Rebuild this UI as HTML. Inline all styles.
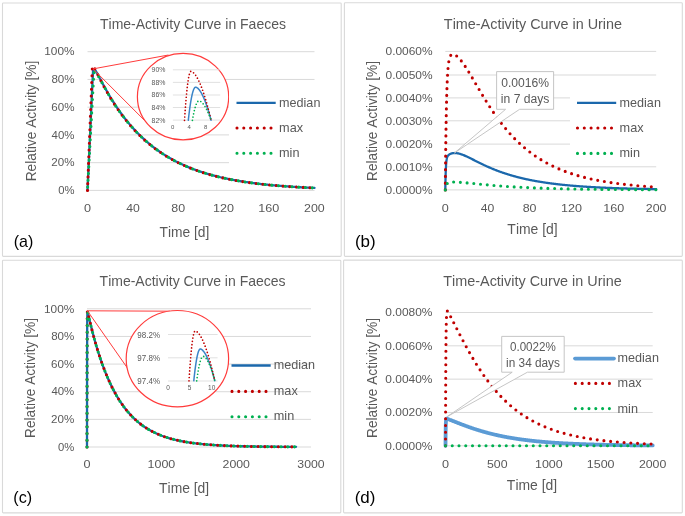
<!DOCTYPE html>
<html><head><meta charset="utf-8"><title>Time-Activity Curves</title>
<style>
html,body{margin:0;padding:0;background:#fff;}
body{width:685px;height:516px;overflow:hidden;}
svg{display:block;will-change:transform;font-family:"Liberation Sans",sans-serif;font-kerning:none;}
</style></head><body>
<svg width="685" height="516" viewBox="0 0 685 516">
<rect width="685" height="516" fill="#fff"/>
<rect x="2.5" y="3.0" width="338.7" height="253.39999999999998" rx="0.8" fill="#fff" stroke="#D9D9D9" stroke-width="1.1"/>
<rect x="344.4" y="2.7" width="337.9" height="253.7" rx="0.8" fill="#fff" stroke="#D9D9D9" stroke-width="1.1"/>
<rect x="2.5" y="260.2" width="338.3" height="252.7" rx="0.8" fill="#fff" stroke="#D9D9D9" stroke-width="1.1"/>
<rect x="343.6" y="260.1" width="338.69999999999993" height="252.79999999999995" rx="0.8" fill="#fff" stroke="#D9D9D9" stroke-width="1.1"/>
<text x="99.99" y="28.90" font-size="14.1" textLength="186.02" lengthAdjust="spacingAndGlyphs" fill="#595959" >Time-Activity Curve in Faeces</text>
<line x1="87.50" y1="190.40" x2="314.50" y2="190.40" stroke="#D9D9D9" stroke-width="1"/>
<text x="58.20" y="194.15" font-size="11.7" textLength="16.30" lengthAdjust="spacingAndGlyphs" fill="#595959" >0%</text>
<line x1="87.50" y1="162.66" x2="314.50" y2="162.66" stroke="#D9D9D9" stroke-width="1"/>
<text x="51.30" y="166.41" font-size="11.7" textLength="23.22" lengthAdjust="spacingAndGlyphs" fill="#595959" >20%</text>
<line x1="87.50" y1="134.92" x2="314.50" y2="134.92" stroke="#D9D9D9" stroke-width="1"/>
<text x="51.62" y="138.67" font-size="11.7" textLength="22.89" lengthAdjust="spacingAndGlyphs" fill="#595959" >40%</text>
<line x1="87.50" y1="107.18" x2="314.50" y2="107.18" stroke="#D9D9D9" stroke-width="1"/>
<text x="51.29" y="110.93" font-size="11.7" textLength="23.22" lengthAdjust="spacingAndGlyphs" fill="#595959" >60%</text>
<line x1="87.50" y1="79.44" x2="314.50" y2="79.44" stroke="#D9D9D9" stroke-width="1"/>
<text x="51.38" y="83.19" font-size="11.7" textLength="23.13" lengthAdjust="spacingAndGlyphs" fill="#595959" >80%</text>
<line x1="87.50" y1="51.70" x2="314.50" y2="51.70" stroke="#D9D9D9" stroke-width="1"/>
<text x="44.22" y="55.45" font-size="11.7" textLength="30.30" lengthAdjust="spacingAndGlyphs" fill="#595959" >100%</text>
<text x="83.97" y="212.00" font-size="11.7" textLength="7.05" lengthAdjust="spacingAndGlyphs" fill="#595959" >0</text>
<text x="126.21" y="212.00" font-size="11.7" textLength="13.58" lengthAdjust="spacingAndGlyphs" fill="#595959" >40</text>
<text x="171.35" y="212.00" font-size="11.7" textLength="13.85" lengthAdjust="spacingAndGlyphs" fill="#595959" >80</text>
<text x="212.95" y="212.00" font-size="11.7" textLength="21.03" lengthAdjust="spacingAndGlyphs" fill="#595959" >120</text>
<text x="258.35" y="212.00" font-size="11.7" textLength="21.03" lengthAdjust="spacingAndGlyphs" fill="#595959" >160</text>
<text x="304.09" y="212.00" font-size="11.7" textLength="20.69" lengthAdjust="spacingAndGlyphs" fill="#595959" >200</text>
<text transform="rotate(-90)" x="-181.33" y="35.50" font-size="13.8" textLength="120.71" lengthAdjust="spacingAndGlyphs" fill="#595959">Relative Activity [%]</text>
<text x="159.49" y="237.00" font-size="13.8" textLength="49.90" lengthAdjust="spacingAndGlyphs" fill="#595959" >Time [d]</text>
<text x="13.71" y="247.00" font-size="16.1" textLength="19.59" lengthAdjust="spacingAndGlyphs" fill="#000" >(a)</text>
<path d="M87.50,190.40 L92.38,84.77 L92.49,82.31 L92.61,79.85 L92.72,77.40 L92.83,74.94 L92.95,72.48 L93.06,70.03 L93.17,69.89 L93.29,69.78 L93.40,69.69 L93.52,69.62 L93.63,69.58 L93.74,69.54 L93.86,69.53 L93.97,69.53 L94.08,69.55 L94.20,69.58 L94.31,69.62 L94.42,69.68 L94.54,69.74 L94.65,69.82 L94.76,69.91 L94.88,70.00 L94.99,70.11 L95.10,70.22 L95.22,70.34 L95.33,70.47 L95.44,70.61 L95.56,70.75 L95.67,70.89 L95.79,71.05 L95.90,71.20 L96.01,71.37 L96.13,71.53 L96.24,71.71 L96.35,71.88 L96.47,72.06 L96.58,72.24 L96.69,72.43 L96.81,72.61 L96.92,72.80 L97.03,73.00 L97.15,73.19 L97.26,73.39 L97.37,73.59 L97.49,73.79 L97.60,73.99 L97.72,74.20 L97.83,74.40 L97.94,74.61 L98.06,74.82 L98.17,75.03 L98.28,75.24 L98.40,75.45 L98.51,75.66 L98.62,75.88 L98.74,76.09 L98.85,76.31 L98.96,76.52 L99.08,76.74 L99.19,76.95 L99.30,77.17 L99.42,77.39 L99.53,77.60 L99.64,77.82 L99.76,78.04 L99.87,78.25 L99.98,78.47 L100.10,78.69 L100.21,78.91 L100.33,79.13 L100.44,79.34 L100.55,79.56 L100.67,79.78 L100.78,80.00 L100.89,80.21 L101.01,80.43 L101.12,80.65 L101.69,81.73 L102.76,83.76 L103.83,85.76 L104.90,87.72 L105.97,89.65 L107.03,91.55 L108.10,93.41 L109.17,95.24 L110.24,97.04 L111.31,98.80 L112.38,100.52 L113.45,102.22 L114.52,103.88 L115.59,105.51 L116.66,107.11 L117.73,108.68 L118.80,110.22 L119.87,111.73 L120.94,113.22 L122.01,114.67 L123.08,116.10 L124.15,117.50 L125.21,118.87 L126.28,120.22 L127.35,121.55 L128.42,122.84 L129.49,124.12 L130.56,125.37 L131.63,126.59 L132.70,127.80 L133.77,128.98 L134.84,130.13 L135.91,131.27 L136.98,132.39 L138.05,133.48 L139.12,134.55 L140.19,135.61 L141.26,136.64 L142.33,137.65 L143.39,138.65 L144.46,139.62 L145.53,140.58 L146.60,141.52 L147.67,142.44 L148.74,143.34 L149.81,144.23 L150.88,145.10 L151.95,145.96 L153.02,146.79 L154.09,147.62 L155.16,148.42 L156.23,149.21 L157.30,149.99 L158.37,150.75 L159.44,151.50 L160.51,152.23 L161.57,152.95 L162.64,153.66 L163.71,154.35 L164.78,155.03 L165.85,155.70 L166.92,156.35 L167.99,156.99 L169.06,157.62 L170.13,158.24 L171.20,158.85 L172.27,159.44 L173.34,160.03 L174.41,160.60 L175.48,161.16 L176.55,161.71 L177.62,162.25 L178.68,162.78 L179.75,163.30 L180.82,163.81 L181.89,164.32 L182.96,164.81 L184.03,165.29 L185.10,165.76 L186.17,166.23 L187.24,166.68 L188.31,167.13 L189.38,167.57 L190.45,168.00 L191.52,168.42 L192.59,168.84 L193.66,169.24 L194.73,169.64 L195.80,170.03 L196.86,170.42 L197.93,170.79 L199.00,171.16 L200.07,171.53 L201.14,171.88 L202.21,172.23 L203.28,172.57 L204.35,172.91 L205.42,173.24 L206.49,173.56 L207.56,173.88 L208.63,174.19 L209.70,174.50 L210.77,174.80 L211.84,175.09 L212.91,175.38 L213.98,175.66 L215.04,175.94 L216.11,176.21 L217.18,176.48 L218.25,176.74 L219.32,177.00 L220.39,177.25 L221.46,177.50 L222.53,177.74 L223.60,177.98 L224.67,178.22 L225.74,178.45 L226.81,178.67 L227.88,178.89 L228.95,179.11 L230.02,179.32 L231.09,179.53 L232.16,179.74 L233.22,179.94 L234.29,180.14 L235.36,180.33 L236.43,180.52 L237.50,180.70 L238.57,180.89 L239.64,181.07 L240.71,181.24 L241.78,181.42 L242.85,181.58 L243.92,181.75 L244.99,181.91 L246.06,182.07 L247.13,182.23 L248.20,182.39 L249.27,182.54 L250.34,182.68 L251.40,182.83 L252.47,182.97 L253.54,183.11 L254.61,183.25 L255.68,183.38 L256.75,183.52 L257.82,183.65 L258.89,183.77 L259.96,183.90 L261.03,184.02 L262.10,184.14 L263.17,184.26 L264.24,184.38 L265.31,184.49 L266.38,184.60 L267.45,184.71 L268.52,184.82 L269.58,184.92 L270.65,185.03 L271.72,185.13 L272.79,185.23 L273.86,185.32 L274.93,185.42 L276.00,185.51 L277.07,185.61 L278.14,185.70 L279.21,185.78 L280.28,185.87 L281.35,185.96 L282.42,186.04 L283.49,186.12 L284.56,186.20 L285.63,186.28 L286.70,186.36 L287.76,186.44 L288.83,186.51 L289.90,186.58 L290.97,186.66 L292.04,186.73 L293.11,186.80 L294.18,186.86 L295.25,186.93 L296.32,187.00 L297.39,187.06 L298.46,187.12 L299.53,187.19 L300.60,187.25 L301.67,187.31 L302.74,187.36 L303.81,187.42 L304.88,187.48 L305.94,187.53 L307.01,187.59 L308.08,187.64 L309.15,187.69 L310.22,187.74 L311.29,187.79 L312.36,187.84 L313.43,187.89 L314.50,187.94" fill="none" stroke="#1B68AC" stroke-width="2.3" stroke-linejoin="round" stroke-linecap="round" />
<path d="M87.50,190.40 L92.38,66.04 L92.49,66.02 L92.61,66.02 L92.72,66.05 L92.83,66.09 L92.95,66.15 L93.06,66.23 L93.17,66.32 L93.29,66.42 L93.40,66.54 L93.52,66.67 L93.63,66.81 L93.74,66.95 L93.86,67.11 L93.97,67.27 L94.08,67.44 L94.20,67.61 L94.31,67.79 L94.42,67.98 L94.54,68.17 L94.65,68.37 L94.76,68.56 L94.88,68.77 L94.99,68.97 L95.10,69.18 L95.22,69.39 L95.33,69.61 L95.44,69.82 L95.56,70.04 L95.67,70.26 L95.79,70.48 L95.90,70.70 L96.01,70.93 L96.13,71.15 L96.24,71.38 L96.35,71.60 L96.47,71.83 L96.58,72.06 L96.69,72.28 L96.81,72.51 L96.92,72.74 L97.03,72.97 L97.15,73.20 L97.26,73.43 L97.37,73.66 L97.49,73.89 L97.60,74.12 L97.72,74.35 L97.83,74.58 L97.94,74.81 L98.06,75.04 L98.17,75.27 L98.28,75.50 L98.40,75.73 L98.51,75.95 L98.62,76.18 L98.74,76.41 L98.85,76.64 L98.96,76.87 L99.08,77.09 L99.19,77.32 L99.30,77.55 L99.42,77.77 L99.53,78.00 L99.64,78.23 L99.76,78.45 L99.87,78.68 L99.98,78.90 L100.10,79.12 L100.21,79.35 L100.33,79.57 L100.44,79.80 L100.55,80.02 L100.67,80.24 L100.78,80.46 L100.89,80.68 L101.01,80.90 L101.12,81.12 L101.69,82.22 L102.76,84.26 L103.83,86.26 L104.90,88.22 L105.97,90.15 L107.03,92.04 L108.10,93.89 L109.17,95.71 L110.24,97.50 L111.31,99.25 L112.38,100.97 L113.45,102.65 L114.52,104.31 L115.59,105.93 L116.66,107.52 L117.73,109.09 L118.80,110.62 L119.87,112.12 L120.94,113.60 L122.01,115.05 L123.08,116.47 L124.15,117.86 L125.21,119.23 L126.28,120.57 L127.35,121.89 L128.42,123.18 L129.49,124.45 L130.56,125.69 L131.63,126.91 L132.70,128.11 L133.77,129.28 L134.84,130.43 L135.91,131.56 L136.98,132.67 L138.05,133.76 L139.12,134.83 L140.19,135.88 L141.26,136.90 L142.33,137.91 L143.39,138.90 L144.46,139.87 L145.53,140.83 L146.60,141.76 L147.67,142.68 L148.74,143.58 L149.81,144.46 L150.88,145.33 L151.95,146.18 L153.02,147.01 L154.09,147.83 L155.16,148.63 L156.23,149.42 L157.30,150.19 L158.37,150.95 L159.44,151.69 L160.51,152.42 L161.57,153.14 L162.64,153.84 L163.71,154.53 L164.78,155.21 L165.85,155.87 L166.92,156.52 L167.99,157.16 L169.06,157.79 L170.13,158.40 L171.20,159.00 L172.27,159.60 L173.34,160.18 L174.41,160.75 L175.48,161.31 L176.55,161.85 L177.62,162.39 L178.68,162.92 L179.75,163.44 L180.82,163.95 L181.89,164.45 L182.96,164.93 L184.03,165.41 L185.10,165.89 L186.17,166.35 L187.24,166.80 L188.31,167.25 L189.38,167.68 L190.45,168.11 L191.52,168.53 L192.59,168.94 L193.66,169.35 L194.73,169.74 L195.80,170.13 L196.86,170.52 L197.93,170.89 L199.00,171.26 L200.07,171.62 L201.14,171.97 L202.21,172.32 L203.28,172.66 L204.35,173.00 L205.42,173.32 L206.49,173.65 L207.56,173.96 L208.63,174.27 L209.70,174.58 L210.77,174.87 L211.84,175.17 L212.91,175.45 L213.98,175.74 L215.04,176.01 L216.11,176.28 L217.18,176.55 L218.25,176.81 L219.32,177.07 L220.39,177.32 L221.46,177.57 L222.53,177.81 L223.60,178.04 L224.67,178.28 L225.74,178.51 L226.81,178.73 L227.88,178.95 L228.95,179.17 L230.02,179.38 L231.09,179.59 L232.16,179.79 L233.22,179.99 L234.29,180.19 L235.36,180.38 L236.43,180.57 L237.50,180.75 L238.57,180.93 L239.64,181.11 L240.71,181.29 L241.78,181.46 L242.85,181.63 L243.92,181.79 L244.99,181.96 L246.06,182.12 L247.13,182.27 L248.20,182.42 L249.27,182.58 L250.34,182.72 L251.40,182.87 L252.47,183.01 L253.54,183.15 L254.61,183.29 L255.68,183.42 L256.75,183.55 L257.82,183.68 L258.89,183.81 L259.96,183.93 L261.03,184.05 L262.10,184.17 L263.17,184.29 L264.24,184.41 L265.31,184.52 L266.38,184.63 L267.45,184.74 L268.52,184.84 L269.58,184.95 L270.65,185.05 L271.72,185.15 L272.79,185.25 L273.86,185.35 L274.93,185.44 L276.00,185.54 L277.07,185.63 L278.14,185.72 L279.21,185.81 L280.28,185.89 L281.35,185.98 L282.42,186.06 L283.49,186.14 L284.56,186.22 L285.63,186.30 L286.70,186.38 L287.76,186.46 L288.83,186.53 L289.90,186.60 L290.97,186.68 L292.04,186.75 L293.11,186.81 L294.18,186.88 L295.25,186.95 L296.32,187.01 L297.39,187.08 L298.46,187.14 L299.53,187.20 L300.60,187.26 L301.67,187.32 L302.74,187.38 L303.81,187.44 L304.88,187.49 L305.94,187.55 L307.01,187.60 L308.08,187.65 L309.15,187.70 L310.22,187.76 L311.29,187.81 L312.36,187.85 L313.43,187.90 L314.50,187.95" fill="none" stroke="#C00000" stroke-width="3.1" stroke-linecap="round" stroke-dasharray="0 6.75" />
<path d="M87.50,190.40 L92.38,100.14 L92.49,98.04 L92.61,95.94 L92.72,93.84 L92.83,91.74 L92.95,89.64 L93.06,87.54 L93.17,85.44 L93.29,83.34 L93.40,81.24 L93.52,79.15 L93.63,77.05 L93.74,74.95 L93.86,72.85 L93.97,72.73 L94.08,72.63 L94.20,72.55 L94.31,72.48 L94.42,72.43 L94.54,72.39 L94.65,72.37 L94.76,72.37 L94.88,72.37 L94.99,72.39 L95.10,72.42 L95.22,72.46 L95.33,72.51 L95.44,72.56 L95.56,72.63 L95.67,72.71 L95.79,72.79 L95.90,72.89 L96.01,72.99 L96.13,73.09 L96.24,73.21 L96.35,73.33 L96.47,73.45 L96.58,73.58 L96.69,73.72 L96.81,73.86 L96.92,74.01 L97.03,74.15 L97.15,74.31 L97.26,74.47 L97.37,74.63 L97.49,74.79 L97.60,74.96 L97.72,75.13 L97.83,75.31 L97.94,75.48 L98.06,75.66 L98.17,75.84 L98.28,76.03 L98.40,76.21 L98.51,76.40 L98.62,76.59 L98.74,76.78 L98.85,76.97 L98.96,77.17 L99.08,77.36 L99.19,77.56 L99.30,77.76 L99.42,77.96 L99.53,78.16 L99.64,78.36 L99.76,78.56 L99.87,78.76 L99.98,78.97 L100.10,79.17 L100.21,79.38 L100.33,79.58 L100.44,79.79 L100.55,80.00 L100.67,80.20 L100.78,80.41 L100.89,80.62 L101.01,80.83 L101.12,81.04 L101.69,82.08 L102.76,84.05 L103.83,86.02 L104.90,87.96 L105.97,89.87 L107.03,91.76 L108.10,93.61 L109.17,95.44 L110.24,97.22 L111.31,98.98 L112.38,100.70 L113.45,102.39 L114.52,104.05 L115.59,105.68 L116.66,107.28 L117.73,108.84 L118.80,110.38 L119.87,111.89 L120.94,113.37 L122.01,114.82 L123.08,116.25 L124.15,117.64 L125.21,119.02 L126.28,120.36 L127.35,121.68 L128.42,122.98 L129.49,124.25 L130.56,125.50 L131.63,126.72 L132.70,127.92 L133.77,129.10 L134.84,130.25 L135.91,131.39 L136.98,132.50 L138.05,133.59 L139.12,134.66 L140.19,135.71 L141.26,136.74 L142.33,137.76 L143.39,138.75 L144.46,139.72 L145.53,140.68 L146.60,141.62 L147.67,142.54 L148.74,143.44 L149.81,144.32 L150.88,145.19 L151.95,146.04 L153.02,146.88 L154.09,147.70 L155.16,148.51 L156.23,149.30 L157.30,150.07 L158.37,150.83 L159.44,151.58 L160.51,152.31 L161.57,153.03 L162.64,153.73 L163.71,154.42 L164.78,155.10 L165.85,155.77 L166.92,156.42 L167.99,157.06 L169.06,157.69 L170.13,158.31 L171.20,158.91 L172.27,159.50 L173.34,160.09 L174.41,160.66 L175.48,161.22 L176.55,161.77 L177.62,162.31 L178.68,162.84 L179.75,163.36 L180.82,163.87 L181.89,164.37 L182.96,164.86 L184.03,165.34 L185.10,165.81 L186.17,166.28 L187.24,166.73 L188.31,167.18 L189.38,167.61 L190.45,168.04 L191.52,168.47 L192.59,168.88 L193.66,169.29 L194.73,169.68 L195.80,170.07 L196.86,170.46 L197.93,170.83 L199.00,171.20 L200.07,171.56 L201.14,171.92 L202.21,172.27 L203.28,172.61 L204.35,172.94 L205.42,173.27 L206.49,173.60 L207.56,173.91 L208.63,174.22 L209.70,174.53 L210.77,174.83 L211.84,175.12 L212.91,175.41 L213.98,175.69 L215.04,175.97 L216.11,176.24 L217.18,176.51 L218.25,176.77 L219.32,177.03 L220.39,177.28 L221.46,177.53 L222.53,177.77 L223.60,178.01 L224.67,178.24 L225.74,178.47 L226.81,178.70 L227.88,178.92 L228.95,179.13 L230.02,179.35 L231.09,179.55 L232.16,179.76 L233.22,179.96 L234.29,180.16 L235.36,180.35 L236.43,180.54 L237.50,180.72 L238.57,180.91 L239.64,181.09 L240.71,181.26 L241.78,181.43 L242.85,181.60 L243.92,181.77 L244.99,181.93 L246.06,182.09 L247.13,182.25 L248.20,182.40 L249.27,182.55 L250.34,182.70 L251.40,182.84 L252.47,182.99 L253.54,183.13 L254.61,183.26 L255.68,183.40 L256.75,183.53 L257.82,183.66 L258.89,183.79 L259.96,183.91 L261.03,184.03 L262.10,184.15 L263.17,184.27 L264.24,184.39 L265.31,184.50 L266.38,184.61 L267.45,184.72 L268.52,184.83 L269.58,184.93 L270.65,185.04 L271.72,185.14 L272.79,185.24 L273.86,185.33 L274.93,185.43 L276.00,185.52 L277.07,185.62 L278.14,185.71 L279.21,185.79 L280.28,185.88 L281.35,185.97 L282.42,186.05 L283.49,186.13 L284.56,186.21 L285.63,186.29 L286.70,186.37 L287.76,186.44 L288.83,186.52 L289.90,186.59 L290.97,186.66 L292.04,186.73 L293.11,186.80 L294.18,186.87 L295.25,186.94 L296.32,187.00 L297.39,187.07 L298.46,187.13 L299.53,187.19 L300.60,187.25 L301.67,187.31 L302.74,187.37 L303.81,187.43 L304.88,187.48 L305.94,187.54 L307.01,187.59 L308.08,187.64 L309.15,187.70 L310.22,187.75 L311.29,187.80 L312.36,187.85 L313.43,187.89 L314.50,187.94" fill="none" stroke="#00B050" stroke-width="3.1" stroke-linecap="round" stroke-dasharray="0 6.75" stroke-dashoffset="3.4"/>
<line x1="93.0" y1="68.9" x2="168.5" y2="55.0" stroke="#FF3B3B" stroke-width="1"/>
<line x1="93.0" y1="68.9" x2="144.5" y2="120.4" stroke="#FF3B3B" stroke-width="1"/>
<ellipse cx="183.05" cy="96.65" rx="45.65" ry="43.25" fill="#fff" stroke="#FF3B3B" stroke-width="1.2"/>
<line x1="172.90" y1="69.80" x2="220.20" y2="69.80" stroke="#D9D9D9" stroke-width="0.8"/>
<text x="151.58" y="72.25" font-size="7.0" textLength="13.87" lengthAdjust="spacingAndGlyphs" fill="#595959" >90%</text>
<line x1="172.90" y1="82.40" x2="220.20" y2="82.40" stroke="#D9D9D9" stroke-width="0.8"/>
<text x="151.60" y="84.85" font-size="7.0" textLength="13.85" lengthAdjust="spacingAndGlyphs" fill="#595959" >88%</text>
<line x1="172.90" y1="95.00" x2="220.20" y2="95.00" stroke="#D9D9D9" stroke-width="0.8"/>
<text x="151.60" y="97.45" font-size="7.0" textLength="13.85" lengthAdjust="spacingAndGlyphs" fill="#595959" >86%</text>
<line x1="172.90" y1="107.50" x2="220.20" y2="107.50" stroke="#D9D9D9" stroke-width="0.8"/>
<text x="151.60" y="109.95" font-size="7.0" textLength="13.85" lengthAdjust="spacingAndGlyphs" fill="#595959" >84%</text>
<line x1="172.90" y1="120.10" x2="220.20" y2="120.10" stroke="#D9D9D9" stroke-width="0.8"/>
<text x="151.60" y="122.55" font-size="7.0" textLength="13.85" lengthAdjust="spacingAndGlyphs" fill="#595959" >82%</text>
<text x="171.03" y="129.10" font-size="6.0" textLength="3.34" lengthAdjust="spacingAndGlyphs" fill="#595959" >0</text>
<text x="187.45" y="129.10" font-size="6.0" textLength="3.34" lengthAdjust="spacingAndGlyphs" fill="#595959" >4</text>
<text x="204.03" y="129.10" font-size="6.0" textLength="3.34" lengthAdjust="spacingAndGlyphs" fill="#595959" >8</text>
<g>
<path d="M188.30,120.30 L188.42,119.21 L188.54,118.13 L188.67,117.07 L188.79,116.03 L188.91,115.01 L189.03,114.01 L189.15,113.03 L189.27,112.06 L189.40,111.11 L189.52,110.19 L189.64,109.28 L189.76,108.38 L189.88,107.51 L190.00,106.66 L190.12,105.82 L190.25,105.00 L190.37,104.20 L190.49,103.42 L190.61,102.66 L190.73,101.91 L190.86,101.18 L190.98,100.48 L191.10,99.79 L191.22,99.12 L191.34,98.46 L191.46,97.83 L191.59,97.21 L191.71,96.62 L191.83,96.04 L191.95,95.47 L192.07,94.93 L192.19,94.41 L192.31,93.90 L192.44,93.42 L192.56,92.95 L192.68,92.50 L192.80,92.06 L192.92,91.65 L193.04,91.25 L193.17,90.88 L193.29,90.52 L193.41,90.18 L193.53,89.86 L193.65,89.55 L193.78,89.27 L193.90,89.00 L194.02,88.75 L194.14,88.52 L194.26,88.31 L194.38,88.12 L194.50,87.94 L194.63,87.79 L194.75,87.65 L194.87,87.53 L194.99,87.43 L195.11,87.35 L195.23,87.28 L195.36,87.24 L195.48,87.21 L195.60,87.20 L195.86,87.23 L196.12,87.29 L196.38,87.37 L196.63,87.49 L196.89,87.63 L197.15,87.79 L197.41,87.97 L197.67,88.17 L197.92,88.40 L198.18,88.64 L198.44,88.90 L198.70,89.18 L198.96,89.48 L199.22,89.79 L199.47,90.13 L199.73,90.48 L199.99,90.84 L200.25,91.23 L200.51,91.62 L200.77,92.04 L201.03,92.47 L201.28,92.92 L201.54,93.38 L201.80,93.86 L202.06,94.35 L202.32,94.86 L202.57,95.38 L202.83,95.92 L203.09,96.47 L203.35,97.04 L203.61,97.62 L203.87,98.22 L204.12,98.83 L204.38,99.45 L204.64,100.09 L204.90,100.74 L205.16,101.40 L205.42,102.08 L205.67,102.77 L205.93,103.48 L206.19,104.20 L206.45,104.93 L206.71,105.68 L206.97,106.44 L207.22,107.21 L207.48,107.99 L207.74,108.79 L208.00,109.60 L208.26,110.42 L208.52,111.26 L208.78,112.11 L209.03,112.97 L209.29,113.84 L209.55,114.73 L209.81,115.62 L210.07,116.54 L210.32,117.46 L210.58,118.39 L210.84,119.34 L211.10,120.30" fill="none" stroke="#3A84C8" stroke-width="1.5" stroke-linejoin="round" stroke-linecap="round" />
<path d="M184.50,120.30 L184.61,118.68 L184.71,117.09 L184.82,115.53 L184.93,114.00 L185.03,112.49 L185.14,111.01 L185.25,109.56 L185.35,108.13 L185.46,106.73 L185.57,105.36 L185.67,104.01 L185.78,102.70 L185.89,101.41 L185.99,100.14 L186.10,98.91 L186.21,97.70 L186.31,96.52 L186.42,95.36 L186.53,94.23 L186.63,93.13 L186.74,92.06 L186.85,91.01 L186.95,90.00 L187.06,89.00 L187.17,88.04 L187.27,87.10 L187.38,86.19 L187.49,85.31 L187.59,84.45 L187.70,83.62 L187.81,82.82 L187.91,82.05 L188.02,81.30 L188.13,80.58 L188.23,79.89 L188.34,79.22 L188.45,78.59 L188.55,77.97 L188.66,77.39 L188.77,76.83 L188.87,76.30 L188.98,75.80 L189.09,75.33 L189.19,74.88 L189.30,74.46 L189.41,74.06 L189.51,73.70 L189.62,73.36 L189.73,73.04 L189.83,72.76 L189.94,72.50 L190.05,72.27 L190.15,72.07 L190.26,71.89 L190.37,71.74 L190.47,71.62 L190.58,71.52 L190.69,71.45 L190.79,71.41 L190.90,71.40 L191.24,71.44 L191.57,71.53 L191.91,71.66 L192.25,71.83 L192.58,72.03 L192.92,72.27 L193.26,72.54 L193.59,72.84 L193.93,73.17 L194.27,73.53 L194.60,73.91 L194.94,74.32 L195.28,74.76 L195.61,75.23 L195.95,75.72 L196.29,76.24 L196.62,76.78 L196.96,77.35 L197.30,77.94 L197.63,78.55 L197.97,79.19 L198.31,79.85 L198.64,80.53 L198.98,81.24 L199.32,81.97 L199.65,82.72 L199.99,83.49 L200.33,84.28 L200.66,85.10 L201.00,85.94 L201.34,86.80 L201.67,87.68 L202.01,88.58 L202.35,89.50 L202.68,90.44 L203.02,91.40 L203.36,92.38 L203.69,93.39 L204.03,94.41 L204.37,95.45 L204.70,96.51 L205.04,97.60 L205.38,98.70 L205.71,99.82 L206.05,100.96 L206.39,102.12 L206.72,103.29 L207.06,104.49 L207.40,105.71 L207.73,106.94 L208.07,108.20 L208.41,109.47 L208.74,110.76 L209.08,112.07 L209.42,113.39 L209.75,114.74 L210.09,116.10 L210.43,117.48 L210.76,118.88 L211.10,120.30" fill="none" stroke="#C00000" stroke-width="1.7" stroke-linecap="round" stroke-dasharray="0 3.3" />
<path d="M192.40,120.30 L192.51,119.66 L192.62,119.02 L192.73,118.40 L192.84,117.79 L192.95,117.19 L193.06,116.59 L193.17,116.02 L193.28,115.45 L193.39,114.89 L193.50,114.34 L193.61,113.81 L193.72,113.28 L193.83,112.77 L193.94,112.26 L194.05,111.77 L194.16,111.29 L194.27,110.82 L194.38,110.35 L194.49,109.91 L194.60,109.47 L194.71,109.04 L194.82,108.62 L194.93,108.22 L195.04,107.82 L195.15,107.44 L195.26,107.06 L195.37,106.70 L195.48,106.35 L195.59,106.01 L195.70,105.67 L195.81,105.36 L195.92,105.05 L196.03,104.75 L196.14,104.46 L196.25,104.19 L196.36,103.92 L196.47,103.67 L196.58,103.42 L196.69,103.19 L196.80,102.97 L196.91,102.76 L197.02,102.55 L197.13,102.37 L197.24,102.19 L197.35,102.02 L197.46,101.86 L197.57,101.72 L197.68,101.58 L197.79,101.46 L197.90,101.34 L198.01,101.24 L198.12,101.15 L198.23,101.07 L198.34,100.99 L198.45,100.94 L198.56,100.89 L198.67,100.85 L198.78,100.82 L198.89,100.81 L199.00,100.80 L199.20,100.82 L199.40,100.85 L199.60,100.90 L199.81,100.97 L200.01,101.05 L200.21,101.15 L200.41,101.25 L200.61,101.37 L200.81,101.51 L201.02,101.65 L201.22,101.80 L201.42,101.97 L201.62,102.14 L201.82,102.33 L202.03,102.52 L202.23,102.73 L202.43,102.95 L202.63,103.17 L202.83,103.41 L203.03,103.65 L203.23,103.91 L203.44,104.17 L203.64,104.44 L203.84,104.72 L204.04,105.01 L204.24,105.31 L204.44,105.62 L204.65,105.94 L204.85,106.26 L205.05,106.60 L205.25,106.94 L205.45,107.29 L205.66,107.65 L205.86,108.02 L206.06,108.39 L206.26,108.78 L206.46,109.17 L206.66,109.57 L206.87,109.98 L207.07,110.39 L207.27,110.81 L207.47,111.25 L207.67,111.69 L207.87,112.13 L208.07,112.59 L208.28,113.05 L208.48,113.52 L208.68,114.00 L208.88,114.48 L209.08,114.97 L209.28,115.47 L209.49,115.98 L209.69,116.49 L209.89,117.02 L210.09,117.55 L210.29,118.08 L210.50,118.63 L210.70,119.18 L210.90,119.73 L211.10,120.30" fill="none" stroke="#00B050" stroke-width="1.7" stroke-linecap="round" stroke-dasharray="0 3.3" />
</g>
<rect x="229" y="88" width="101" height="78" fill="#fff"/>
<path d="M236.50,102.90 L275.70,102.90" fill="none" stroke="#1B68AC" stroke-width="2.3" stroke-linejoin="round" stroke-linecap="butt" />
<path d="M237.00,128.00 L271.10,128.00" fill="none" stroke="#C00000" stroke-width="3.1" stroke-linecap="round" stroke-dasharray="0 6.8" />
<path d="M237.00,153.20 L271.10,153.20" fill="none" stroke="#00B050" stroke-width="3.1" stroke-linecap="round" stroke-dasharray="0 6.8" />
<text x="279.06" y="106.50" font-size="12.7" textLength="41.36" lengthAdjust="spacingAndGlyphs" fill="#595959" >median</text>
<text x="279.06" y="131.70" font-size="12.7" textLength="23.99" lengthAdjust="spacingAndGlyphs" fill="#595959" >max</text>
<text x="279.06" y="156.90" font-size="12.7" textLength="20.46" lengthAdjust="spacingAndGlyphs" fill="#595959" >min</text>
<text x="443.88" y="28.60" font-size="14.1" textLength="178.16" lengthAdjust="spacingAndGlyphs" fill="#595959" >Time-Activity Curve in Urine</text>
<line x1="445.30" y1="189.90" x2="656.20" y2="189.90" stroke="#D9D9D9" stroke-width="1"/>
<text x="385.53" y="193.65" font-size="11.7" textLength="47.09" lengthAdjust="spacingAndGlyphs" fill="#595959" >0.0000%</text>
<line x1="445.30" y1="166.80" x2="656.20" y2="166.80" stroke="#D9D9D9" stroke-width="1"/>
<text x="385.53" y="170.55" font-size="11.7" textLength="47.09" lengthAdjust="spacingAndGlyphs" fill="#595959" >0.0010%</text>
<line x1="445.30" y1="144.10" x2="656.20" y2="144.10" stroke="#D9D9D9" stroke-width="1"/>
<text x="385.53" y="147.85" font-size="11.7" textLength="47.09" lengthAdjust="spacingAndGlyphs" fill="#595959" >0.0020%</text>
<line x1="445.30" y1="120.80" x2="656.20" y2="120.80" stroke="#D9D9D9" stroke-width="1"/>
<text x="385.53" y="124.55" font-size="11.7" textLength="47.09" lengthAdjust="spacingAndGlyphs" fill="#595959" >0.0030%</text>
<line x1="445.30" y1="97.90" x2="656.20" y2="97.90" stroke="#D9D9D9" stroke-width="1"/>
<text x="385.53" y="101.65" font-size="11.7" textLength="47.09" lengthAdjust="spacingAndGlyphs" fill="#595959" >0.0040%</text>
<line x1="445.30" y1="75.00" x2="656.20" y2="75.00" stroke="#D9D9D9" stroke-width="1"/>
<text x="385.53" y="78.75" font-size="11.7" textLength="47.09" lengthAdjust="spacingAndGlyphs" fill="#595959" >0.0050%</text>
<line x1="445.30" y1="51.40" x2="656.20" y2="51.40" stroke="#D9D9D9" stroke-width="1"/>
<text x="385.53" y="55.15" font-size="11.7" textLength="47.09" lengthAdjust="spacingAndGlyphs" fill="#595959" >0.0060%</text>
<text x="441.77" y="211.50" font-size="11.7" textLength="7.05" lengthAdjust="spacingAndGlyphs" fill="#595959" >0</text>
<text x="480.79" y="211.50" font-size="11.7" textLength="13.58" lengthAdjust="spacingAndGlyphs" fill="#595959" >40</text>
<text x="522.71" y="211.50" font-size="11.7" textLength="13.85" lengthAdjust="spacingAndGlyphs" fill="#595959" >80</text>
<text x="561.09" y="211.50" font-size="11.7" textLength="21.03" lengthAdjust="spacingAndGlyphs" fill="#595959" >120</text>
<text x="603.27" y="211.50" font-size="11.7" textLength="21.03" lengthAdjust="spacingAndGlyphs" fill="#595959" >160</text>
<text x="645.79" y="211.50" font-size="11.7" textLength="20.69" lengthAdjust="spacingAndGlyphs" fill="#595959" >200</text>
<text transform="rotate(-90)" x="-180.92" y="376.80" font-size="13.8" textLength="119.89" lengthAdjust="spacingAndGlyphs" fill="#595959">Relative Activity [%]</text>
<text x="507.39" y="233.90" font-size="13.8" textLength="50.31" lengthAdjust="spacingAndGlyphs" fill="#595959" >Time [d]</text>
<text x="354.95" y="246.80" font-size="16.1" textLength="20.70" lengthAdjust="spacingAndGlyphs" fill="#000" >(b)</text>
<path d="M445.30,189.90 L445.34,187.87 L445.37,185.97 L445.41,184.19 L445.44,182.51 L445.48,180.93 L445.51,179.46 L445.55,178.07 L445.58,176.76 L445.62,175.54 L445.65,174.39 L445.69,173.31 L445.72,172.29 L445.76,171.33 L445.79,170.44 L445.83,169.59 L445.86,168.80 L445.90,168.05 L445.93,167.35 L445.97,166.69 L446.00,166.06 L446.04,165.48 L446.07,164.93 L446.11,164.41 L446.14,163.92 L446.18,163.46 L446.21,163.03 L446.25,162.62 L446.28,162.23 L446.32,161.87 L446.35,161.52 L446.39,161.20 L446.42,160.89 L446.46,160.60 L446.50,160.33 L446.53,160.07 L446.57,159.83 L446.60,159.60 L446.64,159.38 L446.67,159.17 L446.71,158.98 L446.74,158.79 L446.78,158.61 L446.81,158.45 L446.85,158.29 L446.88,158.13 L446.92,157.99 L446.95,157.85 L446.99,157.72 L447.02,157.60 L447.06,157.48 L447.09,157.37 L447.13,157.26 L447.16,157.16 L447.20,157.06 L447.23,156.97 L447.27,156.88 L447.30,156.79 L447.34,156.71 L447.37,156.63 L447.41,156.55 L447.44,156.48 L447.48,156.41 L447.51,156.34 L447.55,156.28 L447.58,156.22 L447.62,156.16 L447.66,156.10 L447.69,156.04 L447.73,155.99 L447.76,155.93 L447.80,155.88 L447.83,155.83 L447.87,155.78 L447.90,155.74 L447.94,155.69 L447.97,155.65 L448.01,155.60 L448.04,155.56 L448.08,155.52 L448.11,155.48 L448.15,155.44 L448.18,155.40 L448.22,155.37 L448.25,155.33 L448.29,155.29 L448.32,155.26 L448.36,155.23 L448.39,155.19 L448.43,155.16 L448.46,155.13 L448.57,155.04 L449.09,154.64 L449.61,154.31 L450.13,154.03 L450.65,153.80 L451.17,153.60 L451.69,153.43 L452.21,153.30 L452.73,153.19 L453.25,153.11 L453.77,153.06 L454.29,153.03 L454.81,153.02 L455.33,153.03 L455.85,153.06 L456.37,153.11 L456.90,153.18 L457.42,153.27 L457.94,153.36 L458.46,153.48 L458.98,153.60 L459.50,153.74 L460.02,153.89 L460.54,154.05 L461.06,154.22 L461.58,154.40 L462.10,154.59 L462.62,154.78 L463.14,154.98 L463.66,155.19 L464.18,155.41 L464.70,155.63 L465.22,155.86 L465.74,156.09 L466.26,156.32 L466.78,156.56 L467.30,156.80 L467.82,157.05 L468.34,157.30 L468.86,157.55 L469.38,157.80 L469.90,158.05 L470.42,158.31 L470.95,158.57 L471.47,158.83 L471.99,159.09 L472.51,159.35 L473.03,159.61 L473.55,159.87 L474.07,160.13 L474.59,160.40 L475.11,160.66 L475.63,160.92 L476.15,161.18 L476.67,161.44 L477.19,161.70 L477.71,161.96 L478.23,162.22 L478.75,162.48 L479.27,162.74 L479.79,162.99 L480.31,163.25 L480.83,163.50 L481.35,163.75 L481.87,164.01 L482.39,164.26 L482.91,164.50 L483.43,164.75 L483.95,165.00 L484.48,165.24 L485.00,165.48 L485.52,165.72 L486.04,165.96 L486.56,166.20 L487.08,166.43 L487.60,166.67 L488.12,166.90 L488.64,167.13 L489.16,167.36 L489.68,167.58 L490.20,167.81 L490.72,168.03 L491.24,168.25 L491.76,168.47 L492.28,168.69 L492.80,168.90 L493.32,169.12 L493.84,169.33 L494.36,169.54 L494.88,169.75 L495.40,169.95 L495.92,170.16 L496.44,170.36 L496.96,170.56 L497.48,170.76 L498.00,170.96 L498.53,171.15 L499.05,171.34 L499.57,171.54 L500.09,171.72 L500.61,171.91 L501.13,172.10 L501.65,172.28 L502.17,172.47 L502.69,172.65 L503.21,172.82 L503.73,173.00 L504.25,173.18 L504.77,173.35 L505.29,173.52 L505.81,173.69 L506.33,173.86 L506.85,174.03 L507.37,174.19 L507.89,174.36 L508.41,174.52 L508.93,174.68 L509.45,174.84 L509.97,175.00 L510.49,175.15 L511.01,175.31 L511.53,175.46 L512.06,175.61 L512.58,175.76 L513.10,175.91 L513.62,176.05 L514.14,176.20 L514.66,176.34 L515.18,176.48 L515.70,176.62 L516.22,176.76 L516.74,176.90 L517.26,177.04 L517.78,177.17 L518.30,177.30 L518.82,177.44 L519.34,177.57 L519.86,177.69 L520.38,177.82 L520.90,177.95 L521.42,178.07 L521.94,178.20 L522.46,178.32 L522.98,178.44 L523.50,178.56 L524.02,178.68 L524.54,178.80 L525.06,178.92 L525.58,179.03 L526.11,179.15 L526.63,179.26 L527.15,179.37 L527.67,179.48 L528.19,179.59 L528.71,179.70 L529.23,179.81 L529.75,179.91 L530.27,180.02 L530.79,180.12 L531.31,180.22 L531.83,180.32 L532.35,180.43 L532.87,180.52 L533.39,180.62 L533.91,180.72 L534.43,180.82 L534.95,180.91 L535.47,181.01 L535.99,181.10 L536.51,181.19 L537.03,181.28 L537.55,181.38 L538.07,181.46 L538.59,181.55 L539.11,181.64 L539.64,181.73 L540.16,181.81 L540.68,181.90 L541.20,181.98 L541.72,182.07 L542.24,182.15 L542.76,182.23 L543.28,182.31 L543.80,182.39 L544.32,182.47 L544.84,182.55 L545.36,182.62 L545.88,182.70 L546.40,182.78 L546.92,182.85 L547.44,182.93 L547.96,183.00 L548.48,183.07 L549.00,183.14 L549.52,183.21 L550.04,183.29 L550.56,183.35 L551.08,183.42 L551.60,183.49 L552.12,183.56 L552.64,183.63 L553.17,183.69 L553.69,183.76 L554.21,183.82 L554.73,183.89 L555.25,183.95 L555.77,184.01 L556.29,184.07 L556.81,184.13 L557.33,184.20 L557.85,184.26 L558.37,184.31 L558.89,184.37 L559.41,184.43 L559.93,184.49 L560.45,184.55 L560.97,184.60 L561.49,184.66 L562.01,184.71 L562.53,184.77 L563.05,184.82 L563.57,184.87 L564.09,184.93 L564.61,184.98 L565.13,185.03 L565.65,185.08 L566.17,185.13 L566.69,185.18 L567.22,185.23 L567.74,185.28 L568.26,185.33 L568.78,185.38 L569.30,185.43 L569.82,185.47 L570.34,185.52 L570.86,185.57 L571.38,185.61 L571.90,185.66 L572.42,185.70 L572.94,185.75 L573.46,185.79 L573.98,185.83 L574.50,185.88 L575.02,185.92 L575.54,185.96 L576.06,186.00 L576.58,186.04 L577.10,186.08 L577.62,186.12 L578.14,186.16 L578.66,186.20 L579.18,186.24 L579.70,186.28 L580.22,186.32 L580.75,186.36 L581.27,186.39 L581.79,186.43 L582.31,186.47 L582.83,186.50 L583.35,186.54 L583.87,186.57 L584.39,186.61 L584.91,186.64 L585.43,186.68 L585.95,186.71 L586.47,186.74 L586.99,186.78 L587.51,186.81 L588.03,186.84 L588.55,186.87 L589.07,186.91 L589.59,186.94 L590.11,186.97 L590.63,187.00 L591.15,187.03 L591.67,187.06 L592.19,187.09 L592.71,187.12 L593.23,187.15 L593.75,187.18 L594.27,187.21 L594.80,187.24 L595.32,187.26 L595.84,187.29 L596.36,187.32 L596.88,187.35 L597.40,187.37 L597.92,187.40 L598.44,187.43 L598.96,187.45 L599.48,187.48 L600.00,187.50 L600.52,187.53 L601.04,187.55 L601.56,187.58 L602.08,187.60 L602.60,187.63 L603.12,187.65 L603.64,187.67 L604.16,187.70 L604.68,187.72 L605.20,187.74 L605.72,187.77 L606.24,187.79 L606.76,187.81 L607.28,187.83 L607.80,187.85 L608.33,187.88 L608.85,187.90 L609.37,187.92 L609.89,187.94 L610.41,187.96 L610.93,187.98 L611.45,188.00 L611.97,188.02 L612.49,188.04 L613.01,188.06 L613.53,188.08 L614.05,188.10 L614.57,188.12 L615.09,188.14 L615.61,188.15 L616.13,188.17 L616.65,188.19 L617.17,188.21 L617.69,188.23 L618.21,188.24 L618.73,188.26 L619.25,188.28 L619.77,188.30 L620.29,188.31 L620.81,188.33 L621.33,188.35 L621.86,188.36 L622.38,188.38 L622.90,188.39 L623.42,188.41 L623.94,188.43 L624.46,188.44 L624.98,188.46 L625.50,188.47 L626.02,188.49 L626.54,188.50 L627.06,188.52 L627.58,188.53 L628.10,188.55 L628.62,188.56 L629.14,188.57 L629.66,188.59 L630.18,188.60 L630.70,188.62 L631.22,188.63 L631.74,188.64 L632.26,188.66 L632.78,188.67 L633.30,188.68 L633.82,188.69 L634.34,188.71 L634.86,188.72 L635.38,188.73 L635.91,188.74 L636.43,188.76 L636.95,188.77 L637.47,188.78 L637.99,188.79 L638.51,188.80 L639.03,188.82 L639.55,188.83 L640.07,188.84 L640.59,188.85 L641.11,188.86 L641.63,188.87 L642.15,188.88 L642.67,188.89 L643.19,188.90 L643.71,188.91 L644.23,188.92 L644.75,188.93 L645.27,188.94 L645.79,188.95 L646.31,188.96 L646.83,188.97 L647.35,188.98 L647.87,188.99 L648.39,189.00 L648.91,189.01 L649.44,189.02 L649.96,189.03 L650.48,189.04 L651.00,189.05 L651.52,189.06 L652.04,189.07 L652.56,189.08 L653.08,189.08 L653.60,189.09 L654.12,189.10 L654.64,189.11 L655.16,189.12 L655.68,189.13 L656.20,189.13" fill="none" stroke="#1B68AC" stroke-width="2.3" stroke-linejoin="round" stroke-linecap="round" />
<path d="M445.30,189.90 L445.34,185.95 L445.37,182.12 L445.41,178.40 L445.44,174.78 L445.48,171.28 L445.51,167.88 L445.55,164.57 L445.58,161.37 L445.62,158.26 L445.65,155.24 L445.69,152.31 L445.72,149.46 L445.76,146.70 L445.79,144.02 L445.83,141.42 L445.86,138.89 L445.90,136.44 L445.93,134.06 L445.97,131.75 L446.00,129.51 L446.04,127.33 L446.07,125.22 L446.11,123.17 L446.14,121.17 L446.18,119.24 L446.21,117.36 L446.25,115.54 L446.28,113.77 L446.32,112.05 L446.35,110.38 L446.39,108.77 L446.42,107.19 L446.46,105.67 L446.50,104.18 L446.53,102.75 L446.57,101.35 L446.60,99.99 L446.64,98.67 L446.67,97.39 L446.71,96.15 L446.74,94.95 L446.78,93.78 L446.81,92.64 L446.85,91.53 L446.88,90.46 L446.92,89.42 L446.95,88.41 L446.99,87.43 L447.02,86.47 L447.06,85.55 L447.09,84.65 L447.13,83.77 L447.16,82.92 L447.20,82.10 L447.23,81.30 L447.27,80.52 L447.30,79.76 L447.34,79.03 L447.37,78.32 L447.41,77.62 L447.44,76.95 L447.48,76.30 L447.51,75.66 L447.55,75.05 L447.58,74.45 L447.62,73.87 L447.66,73.30 L447.69,72.75 L447.73,72.22 L447.76,71.70 L447.80,71.19 L447.83,70.71 L447.87,70.23 L447.90,69.77 L447.94,69.32 L447.97,68.88 L448.01,68.46 L448.04,68.05 L448.08,67.64 L448.11,67.26 L448.15,66.88 L448.18,66.51 L448.22,66.15 L448.25,65.80 L448.29,65.47 L448.32,65.14 L448.36,64.82 L448.39,64.51 L448.43,64.21 L448.46,63.92 L448.57,63.09 L449.09,59.88 L449.61,57.76 L450.13,56.36 L450.65,55.45 L451.17,54.86 L451.69,54.51 L452.21,54.32 L452.73,54.26 L453.25,54.29 L453.77,54.40 L454.29,54.58 L454.81,54.82 L455.33,55.10 L455.85,55.43 L456.37,55.81 L456.90,56.22 L457.42,56.66 L457.94,57.14 L458.46,57.66 L458.98,58.20 L459.50,58.77 L460.02,59.36 L460.54,59.98 L461.06,60.62 L461.58,61.29 L462.10,61.97 L462.62,62.67 L463.14,63.40 L463.66,64.13 L464.18,64.89 L464.70,65.65 L465.22,66.43 L465.74,67.23 L466.26,68.03 L466.78,68.85 L467.30,69.67 L467.82,70.50 L468.34,71.35 L468.86,72.19 L469.38,73.05 L469.90,73.91 L470.42,74.78 L470.95,75.65 L471.47,76.53 L471.99,77.41 L472.51,78.29 L473.03,79.17 L473.55,80.06 L474.07,80.95 L474.59,81.84 L475.11,82.73 L475.63,83.62 L476.15,84.51 L476.67,85.40 L477.19,86.29 L477.71,87.17 L478.23,88.06 L478.75,88.95 L479.27,89.83 L479.79,90.71 L480.31,91.59 L480.83,92.46 L481.35,93.33 L481.87,94.20 L482.39,95.07 L482.91,95.93 L483.43,96.79 L483.95,97.64 L484.48,98.49 L485.00,99.34 L485.52,100.18 L486.04,101.02 L486.56,101.85 L487.08,102.68 L487.60,103.50 L488.12,104.32 L488.64,105.13 L489.16,105.94 L489.68,106.74 L490.20,107.54 L490.72,108.33 L491.24,109.12 L491.76,109.90 L492.28,110.68 L492.80,111.45 L493.32,112.21 L493.84,112.97 L494.36,113.72 L494.88,114.47 L495.40,115.21 L495.92,115.95 L496.44,116.68 L496.96,117.40 L497.48,118.12 L498.00,118.83 L498.53,119.54 L499.05,120.24 L499.57,120.94 L500.09,121.62 L500.61,122.31 L501.13,122.99 L501.65,123.66 L502.17,124.32 L502.69,124.98 L503.21,125.64 L503.73,126.29 L504.25,126.93 L504.77,127.57 L505.29,128.20 L505.81,128.82 L506.33,129.44 L506.85,130.06 L507.37,130.67 L507.89,131.27 L508.41,131.87 L508.93,132.46 L509.45,133.05 L509.97,133.63 L510.49,134.21 L511.01,134.78 L511.53,135.34 L512.06,135.90 L512.58,136.45 L513.10,137.00 L513.62,137.55 L514.14,138.09 L514.66,138.62 L515.18,139.15 L515.70,139.67 L516.22,140.19 L516.74,140.70 L517.26,141.21 L517.78,141.71 L518.30,142.21 L518.82,142.70 L519.34,143.19 L519.86,143.68 L520.38,144.15 L520.90,144.63 L521.42,145.10 L521.94,145.56 L522.46,146.02 L522.98,146.48 L523.50,146.93 L524.02,147.38 L524.54,147.82 L525.06,148.25 L525.58,148.69 L526.11,149.12 L526.63,149.54 L527.15,149.96 L527.67,150.38 L528.19,150.79 L528.71,151.20 L529.23,151.60 L529.75,152.00 L530.27,152.39 L530.79,152.79 L531.31,153.17 L531.83,153.56 L532.35,153.94 L532.87,154.31 L533.39,154.68 L533.91,155.05 L534.43,155.41 L534.95,155.78 L535.47,156.13 L535.99,156.48 L536.51,156.83 L537.03,157.18 L537.55,157.52 L538.07,157.86 L538.59,158.20 L539.11,158.53 L539.64,158.86 L540.16,159.18 L540.68,159.50 L541.20,159.82 L541.72,160.14 L542.24,160.45 L542.76,160.76 L543.28,161.06 L543.80,161.36 L544.32,161.66 L544.84,161.96 L545.36,162.25 L545.88,162.54 L546.40,162.83 L546.92,163.11 L547.44,163.39 L547.96,163.67 L548.48,163.95 L549.00,164.22 L549.52,164.49 L550.04,164.76 L550.56,165.02 L551.08,165.28 L551.60,165.54 L552.12,165.79 L552.64,166.05 L553.17,166.30 L553.69,166.55 L554.21,166.79 L554.73,167.03 L555.25,167.27 L555.77,167.51 L556.29,167.75 L556.81,167.98 L557.33,168.21 L557.85,168.44 L558.37,168.66 L558.89,168.89 L559.41,169.11 L559.93,169.33 L560.45,169.54 L560.97,169.76 L561.49,169.97 L562.01,170.18 L562.53,170.38 L563.05,170.59 L563.57,170.79 L564.09,170.99 L564.61,171.19 L565.13,171.39 L565.65,171.58 L566.17,171.78 L566.69,171.97 L567.22,172.15 L567.74,172.34 L568.26,172.53 L568.78,172.71 L569.30,172.89 L569.82,173.07 L570.34,173.24 L570.86,173.42 L571.38,173.59 L571.90,173.76 L572.42,173.93 L572.94,174.10 L573.46,174.27 L573.98,174.43 L574.50,174.60 L575.02,174.76 L575.54,174.92 L576.06,175.07 L576.58,175.23 L577.10,175.38 L577.62,175.54 L578.14,175.69 L578.66,175.84 L579.18,175.98 L579.70,176.13 L580.22,176.28 L580.75,176.42 L581.27,176.56 L581.79,176.70 L582.31,176.84 L582.83,176.98 L583.35,177.11 L583.87,177.25 L584.39,177.38 L584.91,177.51 L585.43,177.64 L585.95,177.77 L586.47,177.90 L586.99,178.03 L587.51,178.15 L588.03,178.27 L588.55,178.40 L589.07,178.52 L589.59,178.64 L590.11,178.76 L590.63,178.87 L591.15,178.99 L591.67,179.10 L592.19,179.22 L592.71,179.33 L593.23,179.44 L593.75,179.55 L594.27,179.66 L594.80,179.77 L595.32,179.87 L595.84,179.98 L596.36,180.08 L596.88,180.19 L597.40,180.29 L597.92,180.39 L598.44,180.49 L598.96,180.59 L599.48,180.69 L600.00,180.79 L600.52,180.88 L601.04,180.98 L601.56,181.07 L602.08,181.16 L602.60,181.25 L603.12,181.35 L603.64,181.44 L604.16,181.52 L604.68,181.61 L605.20,181.70 L605.72,181.79 L606.24,181.87 L606.76,181.96 L607.28,182.04 L607.80,182.12 L608.33,182.20 L608.85,182.29 L609.37,182.37 L609.89,182.44 L610.41,182.52 L610.93,182.60 L611.45,182.68 L611.97,182.75 L612.49,182.83 L613.01,182.90 L613.53,182.98 L614.05,183.05 L614.57,183.12 L615.09,183.19 L615.61,183.26 L616.13,183.33 L616.65,183.40 L617.17,183.47 L617.69,183.54 L618.21,183.61 L618.73,183.67 L619.25,183.74 L619.77,183.80 L620.29,183.87 L620.81,183.93 L621.33,183.99 L621.86,184.05 L622.38,184.12 L622.90,184.18 L623.42,184.24 L623.94,184.30 L624.46,184.36 L624.98,184.41 L625.50,184.47 L626.02,184.53 L626.54,184.59 L627.06,184.64 L627.58,184.70 L628.10,184.75 L628.62,184.81 L629.14,184.86 L629.66,184.91 L630.18,184.97 L630.70,185.02 L631.22,185.07 L631.74,185.12 L632.26,185.17 L632.78,185.22 L633.30,185.27 L633.82,185.32 L634.34,185.37 L634.86,185.41 L635.38,185.46 L635.91,185.51 L636.43,185.55 L636.95,185.60 L637.47,185.64 L637.99,185.69 L638.51,185.73 L639.03,185.78 L639.55,185.82 L640.07,185.86 L640.59,185.91 L641.11,185.95 L641.63,185.99 L642.15,186.03 L642.67,186.07 L643.19,186.11 L643.71,186.15 L644.23,186.19 L644.75,186.23 L645.27,186.27 L645.79,186.31 L646.31,186.35 L646.83,186.38 L647.35,186.42 L647.87,186.46 L648.39,186.49 L648.91,186.53 L649.44,186.56 L649.96,186.60 L650.48,186.63 L651.00,186.67 L651.52,186.70 L652.04,186.74 L652.56,186.77 L653.08,186.80 L653.60,186.83 L654.12,186.87 L654.64,186.90 L655.16,186.93 L655.68,186.96 L656.20,186.99" fill="none" stroke="#C00000" stroke-width="3.1" stroke-linecap="round" stroke-dasharray="0 6.75" />
<path d="M445.30,189.90 L445.34,189.67 L445.37,189.45 L445.41,189.23 L445.44,189.02 L445.48,188.82 L445.51,188.62 L445.55,188.43 L445.58,188.25 L445.62,188.06 L445.65,187.89 L445.69,187.72 L445.72,187.55 L445.76,187.39 L445.79,187.24 L445.83,187.09 L445.86,186.94 L445.90,186.80 L445.93,186.66 L445.97,186.53 L446.00,186.40 L446.04,186.27 L446.07,186.15 L446.11,186.03 L446.14,185.91 L446.18,185.80 L446.21,185.69 L446.25,185.59 L446.28,185.48 L446.32,185.38 L446.35,185.29 L446.39,185.19 L446.42,185.10 L446.46,185.01 L446.50,184.93 L446.53,184.85 L446.57,184.76 L446.60,184.69 L446.64,184.61 L446.67,184.53 L446.71,184.46 L446.74,184.39 L446.78,184.32 L446.81,184.26 L446.85,184.19 L446.88,184.13 L446.92,184.07 L446.95,184.01 L446.99,183.96 L447.02,183.90 L447.06,183.85 L447.09,183.80 L447.13,183.74 L447.16,183.70 L447.20,183.65 L447.23,183.60 L447.27,183.56 L447.30,183.51 L447.34,183.47 L447.37,183.43 L447.41,183.39 L447.44,183.35 L447.48,183.31 L447.51,183.27 L447.55,183.24 L447.58,183.20 L447.62,183.17 L447.66,183.14 L447.69,183.11 L447.73,183.07 L447.76,183.04 L447.80,183.02 L447.83,182.99 L447.87,182.96 L447.90,182.93 L447.94,182.91 L447.97,182.88 L448.01,182.86 L448.04,182.83 L448.08,182.81 L448.11,182.79 L448.15,182.76 L448.18,182.74 L448.22,182.72 L448.25,182.70 L448.29,182.68 L448.32,182.66 L448.36,182.65 L448.39,182.63 L448.43,182.61 L448.46,182.59 L448.57,182.54 L449.09,182.36 L449.61,182.24 L450.13,182.15 L450.65,182.10 L451.17,182.07 L451.69,182.05 L452.21,182.04 L452.73,182.03 L453.25,182.03 L453.77,182.04 L454.29,182.05 L454.81,182.07 L455.33,182.08 L455.85,182.10 L456.37,182.12 L456.90,182.15 L457.42,182.17 L457.94,182.20 L458.46,182.23 L458.98,182.26 L459.50,182.29 L460.02,182.33 L460.54,182.36 L461.06,182.40 L461.58,182.44 L462.10,182.48 L462.62,182.52 L463.14,182.56 L463.66,182.61 L464.18,182.65 L464.70,182.69 L465.22,182.74 L465.74,182.78 L466.26,182.83 L466.78,182.88 L467.30,182.93 L467.82,182.98 L468.34,183.02 L468.86,183.07 L469.38,183.12 L469.90,183.17 L470.42,183.22 L470.95,183.27 L471.47,183.32 L471.99,183.38 L472.51,183.43 L473.03,183.48 L473.55,183.53 L474.07,183.58 L474.59,183.63 L475.11,183.68 L475.63,183.74 L476.15,183.79 L476.67,183.84 L477.19,183.89 L477.71,183.94 L478.23,183.99 L478.75,184.04 L479.27,184.10 L479.79,184.15 L480.31,184.20 L480.83,184.25 L481.35,184.30 L481.87,184.35 L482.39,184.40 L482.91,184.45 L483.43,184.50 L483.95,184.55 L484.48,184.60 L485.00,184.65 L485.52,184.70 L486.04,184.74 L486.56,184.79 L487.08,184.84 L487.60,184.89 L488.12,184.94 L488.64,184.98 L489.16,185.03 L489.68,185.08 L490.20,185.12 L490.72,185.17 L491.24,185.21 L491.76,185.26 L492.28,185.31 L492.80,185.35 L493.32,185.39 L493.84,185.44 L494.36,185.48 L494.88,185.53 L495.40,185.57 L495.92,185.61 L496.44,185.65 L496.96,185.70 L497.48,185.74 L498.00,185.78 L498.53,185.82 L499.05,185.86 L499.57,185.90 L500.09,185.94 L500.61,185.98 L501.13,186.02 L501.65,186.06 L502.17,186.10 L502.69,186.13 L503.21,186.17 L503.73,186.21 L504.25,186.25 L504.77,186.28 L505.29,186.32 L505.81,186.36 L506.33,186.39 L506.85,186.43 L507.37,186.46 L507.89,186.50 L508.41,186.53 L508.93,186.57 L509.45,186.60 L509.97,186.64 L510.49,186.67 L511.01,186.70 L511.53,186.74 L512.06,186.77 L512.58,186.80 L513.10,186.83 L513.62,186.86 L514.14,186.89 L514.66,186.93 L515.18,186.96 L515.70,186.99 L516.22,187.02 L516.74,187.05 L517.26,187.08 L517.78,187.11 L518.30,187.13 L518.82,187.16 L519.34,187.19 L519.86,187.22 L520.38,187.25 L520.90,187.27 L521.42,187.30 L521.94,187.33 L522.46,187.36 L522.98,187.38 L523.50,187.41 L524.02,187.43 L524.54,187.46 L525.06,187.48 L525.58,187.51 L526.11,187.53 L526.63,187.56 L527.15,187.58 L527.67,187.61 L528.19,187.63 L528.71,187.66 L529.23,187.68 L529.75,187.70 L530.27,187.72 L530.79,187.75 L531.31,187.77 L531.83,187.79 L532.35,187.81 L532.87,187.84 L533.39,187.86 L533.91,187.88 L534.43,187.90 L534.95,187.92 L535.47,187.94 L535.99,187.96 L536.51,187.98 L537.03,188.00 L537.55,188.02 L538.07,188.04 L538.59,188.06 L539.11,188.08 L539.64,188.10 L540.16,188.12 L540.68,188.14 L541.20,188.16 L541.72,188.17 L542.24,188.19 L542.76,188.21 L543.28,188.23 L543.80,188.24 L544.32,188.26 L544.84,188.28 L545.36,188.30 L545.88,188.31 L546.40,188.33 L546.92,188.35 L547.44,188.36 L547.96,188.38 L548.48,188.39 L549.00,188.41 L549.52,188.43 L550.04,188.44 L550.56,188.46 L551.08,188.47 L551.60,188.49 L552.12,188.50 L552.64,188.52 L553.17,188.53 L553.69,188.55 L554.21,188.56 L554.73,188.57 L555.25,188.59 L555.77,188.60 L556.29,188.62 L556.81,188.63 L557.33,188.64 L557.85,188.66 L558.37,188.67 L558.89,188.68 L559.41,188.69 L559.93,188.71 L560.45,188.72 L560.97,188.73 L561.49,188.74 L562.01,188.76 L562.53,188.77 L563.05,188.78 L563.57,188.79 L564.09,188.80 L564.61,188.81 L565.13,188.83 L565.65,188.84 L566.17,188.85 L566.69,188.86 L567.22,188.87 L567.74,188.88 L568.26,188.89 L568.78,188.90 L569.30,188.91 L569.82,188.92 L570.34,188.93 L570.86,188.94 L571.38,188.95 L571.90,188.96 L572.42,188.97 L572.94,188.98 L573.46,188.99 L573.98,189.00 L574.50,189.01 L575.02,189.02 L575.54,189.03 L576.06,189.04 L576.58,189.05 L577.10,189.06 L577.62,189.07 L578.14,189.08 L578.66,189.08 L579.18,189.09 L579.70,189.10 L580.22,189.11 L580.75,189.12 L581.27,189.13 L581.79,189.13 L582.31,189.14 L582.83,189.15 L583.35,189.16 L583.87,189.17 L584.39,189.17 L584.91,189.18 L585.43,189.19 L585.95,189.20 L586.47,189.20 L586.99,189.21 L587.51,189.22 L588.03,189.23 L588.55,189.23 L589.07,189.24 L589.59,189.25 L590.11,189.25 L590.63,189.26 L591.15,189.27 L591.67,189.27 L592.19,189.28 L592.71,189.29 L593.23,189.29 L593.75,189.30 L594.27,189.31 L594.80,189.31 L595.32,189.32 L595.84,189.32 L596.36,189.33 L596.88,189.34 L597.40,189.34 L597.92,189.35 L598.44,189.35 L598.96,189.36 L599.48,189.37 L600.00,189.37 L600.52,189.38 L601.04,189.38 L601.56,189.39 L602.08,189.39 L602.60,189.40 L603.12,189.40 L603.64,189.41 L604.16,189.41 L604.68,189.42 L605.20,189.42 L605.72,189.43 L606.24,189.43 L606.76,189.44 L607.28,189.44 L607.80,189.45 L608.33,189.45 L608.85,189.46 L609.37,189.46 L609.89,189.47 L610.41,189.47 L610.93,189.48 L611.45,189.48 L611.97,189.49 L612.49,189.49 L613.01,189.49 L613.53,189.50 L614.05,189.50 L614.57,189.51 L615.09,189.51 L615.61,189.52 L616.13,189.52 L616.65,189.52 L617.17,189.53 L617.69,189.53 L618.21,189.53 L618.73,189.54 L619.25,189.54 L619.77,189.55 L620.29,189.55 L620.81,189.55 L621.33,189.56 L621.86,189.56 L622.38,189.56 L622.90,189.57 L623.42,189.57 L623.94,189.58 L624.46,189.58 L624.98,189.58 L625.50,189.59 L626.02,189.59 L626.54,189.59 L627.06,189.60 L627.58,189.60 L628.10,189.60 L628.62,189.60 L629.14,189.61 L629.66,189.61 L630.18,189.61 L630.70,189.62 L631.22,189.62 L631.74,189.62 L632.26,189.63 L632.78,189.63 L633.30,189.63 L633.82,189.63 L634.34,189.64 L634.86,189.64 L635.38,189.64 L635.91,189.65 L636.43,189.65 L636.95,189.65 L637.47,189.65 L637.99,189.66 L638.51,189.66 L639.03,189.66 L639.55,189.66 L640.07,189.67 L640.59,189.67 L641.11,189.67 L641.63,189.67 L642.15,189.68 L642.67,189.68 L643.19,189.68 L643.71,189.68 L644.23,189.68 L644.75,189.69 L645.27,189.69 L645.79,189.69 L646.31,189.69 L646.83,189.70 L647.35,189.70 L647.87,189.70 L648.39,189.70 L648.91,189.70 L649.44,189.71 L649.96,189.71 L650.48,189.71 L651.00,189.71 L651.52,189.71 L652.04,189.72 L652.56,189.72 L653.08,189.72 L653.60,189.72 L654.12,189.72 L654.64,189.73 L655.16,189.73 L655.68,189.73 L656.20,189.73" fill="none" stroke="#00B050" stroke-width="3.1" stroke-linecap="round" stroke-dasharray="0 6.75" />
<path d="M496.6,71.6 H553.6 V109.3 H519.6 L454.4,153.0 L505.6,109.3 H496.6 Z" fill="#fff" stroke="#BFBFBF" stroke-width="0.9" stroke-linejoin="miter"/>
<text x="501.23" y="86.90" font-size="12.0" textLength="47.80" lengthAdjust="spacingAndGlyphs" fill="#595959" >0.0016%</text>
<text x="500.89" y="102.70" font-size="12.0" textLength="48.55" lengthAdjust="spacingAndGlyphs" fill="#595959" >in 7 days</text>
<rect x="570" y="88" width="100" height="74" fill="#fff"/>
<path d="M577.00,102.90 L616.20,102.90" fill="none" stroke="#1B68AC" stroke-width="2.3" stroke-linejoin="round" stroke-linecap="butt" />
<path d="M577.50,128.00 L611.60,128.00" fill="none" stroke="#C00000" stroke-width="3.1" stroke-linecap="round" stroke-dasharray="0 6.8" />
<path d="M577.50,153.40 L611.60,153.40" fill="none" stroke="#00B050" stroke-width="3.1" stroke-linecap="round" stroke-dasharray="0 6.8" />
<text x="619.56" y="106.50" font-size="12.7" textLength="41.36" lengthAdjust="spacingAndGlyphs" fill="#595959" >median</text>
<text x="619.56" y="131.70" font-size="12.7" textLength="23.99" lengthAdjust="spacingAndGlyphs" fill="#595959" >max</text>
<text x="619.56" y="156.90" font-size="12.7" textLength="20.46" lengthAdjust="spacingAndGlyphs" fill="#595959" >min</text>
<text x="99.59" y="285.80" font-size="14.1" textLength="186.02" lengthAdjust="spacingAndGlyphs" fill="#595959" >Time-Activity Curve in Faeces</text>
<line x1="87.00" y1="447.00" x2="311.00" y2="447.00" stroke="#D9D9D9" stroke-width="1"/>
<text x="58.00" y="450.75" font-size="11.7" textLength="16.30" lengthAdjust="spacingAndGlyphs" fill="#595959" >0%</text>
<line x1="87.00" y1="419.36" x2="311.00" y2="419.36" stroke="#D9D9D9" stroke-width="1"/>
<text x="51.10" y="423.11" font-size="11.7" textLength="23.22" lengthAdjust="spacingAndGlyphs" fill="#595959" >20%</text>
<line x1="87.00" y1="391.72" x2="311.00" y2="391.72" stroke="#D9D9D9" stroke-width="1"/>
<text x="51.42" y="395.47" font-size="11.7" textLength="22.89" lengthAdjust="spacingAndGlyphs" fill="#595959" >40%</text>
<line x1="87.00" y1="364.08" x2="311.00" y2="364.08" stroke="#D9D9D9" stroke-width="1"/>
<text x="51.09" y="367.83" font-size="11.7" textLength="23.22" lengthAdjust="spacingAndGlyphs" fill="#595959" >60%</text>
<line x1="87.00" y1="336.44" x2="311.00" y2="336.44" stroke="#D9D9D9" stroke-width="1"/>
<text x="51.18" y="340.19" font-size="11.7" textLength="23.13" lengthAdjust="spacingAndGlyphs" fill="#595959" >80%</text>
<line x1="87.00" y1="308.80" x2="311.00" y2="308.80" stroke="#D9D9D9" stroke-width="1"/>
<text x="44.02" y="312.55" font-size="11.7" textLength="30.30" lengthAdjust="spacingAndGlyphs" fill="#595959" >100%</text>
<text x="83.47" y="468.00" font-size="11.7" textLength="7.05" lengthAdjust="spacingAndGlyphs" fill="#595959" >0</text>
<text x="147.55" y="468.00" font-size="11.7" textLength="27.78" lengthAdjust="spacingAndGlyphs" fill="#595959" >1000</text>
<text x="222.54" y="468.00" font-size="11.7" textLength="27.44" lengthAdjust="spacingAndGlyphs" fill="#595959" >2000</text>
<text x="297.36" y="468.00" font-size="11.7" textLength="27.29" lengthAdjust="spacingAndGlyphs" fill="#595959" >3000</text>
<text transform="rotate(-90)" x="-437.92" y="35.40" font-size="13.8" textLength="119.89" lengthAdjust="spacingAndGlyphs" fill="#595959">Relative Activity [%]</text>
<text x="159.09" y="493.30" font-size="13.8" textLength="50.10" lengthAdjust="spacingAndGlyphs" fill="#595959" >Time [d]</text>
<text x="13.30" y="503.00" font-size="16.1" textLength="18.80" lengthAdjust="spacingAndGlyphs" fill="#000" >(c)</text>
<path d="M231.50,365.50 L270.70,365.50" fill="none" stroke="#1B68AC" stroke-width="2.3" stroke-linejoin="round" stroke-linecap="butt" />
<path d="M232.00,391.40 L266.10,391.40" fill="none" stroke="#C00000" stroke-width="3.1" stroke-linecap="round" stroke-dasharray="0 6.8" />
<path d="M232.00,416.70 L266.10,416.70" fill="none" stroke="#00B050" stroke-width="3.1" stroke-linecap="round" stroke-dasharray="0 6.8" />
<text x="273.76" y="369.20" font-size="12.7" textLength="41.36" lengthAdjust="spacingAndGlyphs" fill="#595959" >median</text>
<text x="273.76" y="394.50" font-size="12.7" textLength="23.99" lengthAdjust="spacingAndGlyphs" fill="#595959" >max</text>
<text x="273.76" y="419.80" font-size="12.7" textLength="20.46" lengthAdjust="spacingAndGlyphs" fill="#595959" >min</text>
<path d="M87.00,447.00 L87.02,422.31 L87.04,402.06 L87.06,385.45 L87.07,371.84 L87.09,360.68 L87.11,351.53 L87.13,344.04 L87.15,337.91 L87.17,332.89 L87.19,328.79 L87.21,325.44 L87.22,322.70 L87.24,320.47 L87.26,318.66 L87.28,317.18 L87.30,315.99 L87.32,315.02 L87.34,314.24 L87.35,313.62 L87.37,313.12 L87.39,312.73 L87.41,312.43 L87.43,312.19 L87.45,312.01 L87.47,311.88 L87.49,311.79 L87.50,311.73 L87.52,311.69 L87.54,311.68 L87.56,311.68 L87.58,311.70 L87.60,311.73 L87.62,311.77 L87.63,311.82 L87.65,311.87 L87.67,311.93 L87.69,312.00 L87.71,312.07 L87.73,312.14 L87.75,312.21 L87.77,312.28 L87.78,312.36 L87.80,312.44 L87.82,312.52 L87.84,312.60 L87.86,312.68 L87.88,312.76 L87.90,312.84 L87.91,312.92 L87.93,313.01 L87.95,313.09 L87.97,313.17 L87.99,313.25 L88.01,313.34 L88.03,313.42 L88.05,313.50 L88.06,313.59 L88.08,313.67 L88.10,313.75 L88.12,313.83 L88.14,313.92 L88.16,314.00 L88.18,314.08 L88.19,314.17 L88.21,314.25 L88.23,314.33 L88.25,314.41 L88.27,314.50 L88.29,314.58 L88.31,314.66 L88.33,314.75 L88.34,314.83 L88.36,314.91 L88.38,314.99 L88.40,315.08 L88.42,315.16 L88.44,315.24 L88.46,315.32 L88.47,315.41 L88.49,315.49 L88.51,315.57 L88.53,315.65 L88.55,315.73 L88.57,315.82 L88.59,315.90 L88.61,315.98 L88.62,316.06 L88.64,316.14 L88.66,316.23 L88.68,316.31 L88.70,316.39 L88.72,316.47 L88.74,316.55 L88.75,316.63 L88.77,316.71 L88.79,316.80 L88.81,316.88 L88.83,316.96 L88.85,317.04 L88.87,317.12 L88.89,317.20 L88.90,317.28 L88.92,317.36 L88.94,317.45 L88.96,317.53 L88.98,317.61 L89.00,317.69 L89.02,317.77 L89.03,317.85 L89.05,317.93 L89.07,318.01 L89.09,318.09 L89.11,318.17 L89.13,318.25 L89.15,318.33 L89.17,318.41 L89.18,318.49 L89.20,318.57 L89.22,318.65 L89.24,318.73 L89.31,319.05 L90.01,321.98 L90.70,324.84 L91.39,327.64 L92.08,330.37 L92.77,333.04 L93.46,335.65 L94.16,338.20 L94.85,340.69 L95.54,343.12 L96.23,345.50 L96.92,347.82 L97.61,350.09 L98.30,352.31 L99.00,354.48 L99.69,356.59 L100.38,358.66 L101.07,360.68 L101.76,362.66 L102.45,364.59 L103.14,366.48 L103.84,368.32 L104.53,370.12 L105.22,371.88 L105.91,373.60 L106.60,375.28 L107.29,376.92 L107.98,378.52 L108.68,380.09 L109.37,381.62 L110.06,383.12 L110.75,384.58 L111.44,386.01 L112.13,387.40 L112.82,388.77 L113.52,390.10 L114.21,391.40 L114.90,392.68 L115.59,393.92 L116.28,395.13 L116.97,396.32 L117.67,397.48 L118.36,398.61 L119.05,399.72 L119.74,400.80 L120.43,401.86 L121.12,402.89 L121.81,403.90 L122.51,404.89 L123.20,405.85 L123.89,406.79 L124.58,407.72 L125.27,408.61 L125.96,409.49 L126.65,410.35 L127.35,411.19 L128.04,412.01 L128.73,412.81 L129.42,413.59 L130.11,414.36 L130.80,415.10 L131.49,415.83 L132.19,416.55 L132.88,417.24 L133.57,417.93 L134.26,418.59 L134.95,419.24 L135.64,419.88 L136.34,420.50 L137.03,421.10 L137.72,421.70 L138.41,422.28 L139.10,422.84 L139.79,423.39 L140.48,423.93 L141.18,424.46 L141.87,424.98 L142.56,425.48 L143.25,425.97 L143.94,426.46 L144.63,426.93 L145.32,427.39 L146.02,427.83 L146.71,428.27 L147.40,428.70 L148.09,429.12 L148.78,429.53 L149.47,429.93 L150.16,430.32 L150.86,430.70 L151.55,431.07 L152.24,431.44 L152.93,431.80 L153.62,432.14 L154.31,432.48 L155.01,432.82 L155.70,433.14 L156.39,433.46 L157.08,433.77 L157.77,434.07 L158.46,434.37 L159.15,434.66 L159.85,434.94 L160.54,435.21 L161.23,435.48 L161.92,435.75 L162.61,436.00 L163.30,436.26 L163.99,436.50 L164.69,436.74 L165.38,436.98 L166.07,437.21 L166.76,437.43 L167.45,437.65 L168.14,437.86 L168.83,438.07 L169.53,438.28 L170.22,438.48 L170.91,438.67 L171.60,438.86 L172.29,439.05 L172.98,439.23 L173.68,439.41 L174.37,439.58 L175.06,439.75 L175.75,439.92 L176.44,440.08 L177.13,440.24 L177.82,440.39 L178.52,440.54 L179.21,440.69 L179.90,440.84 L180.59,440.98 L181.28,441.12 L181.97,441.25 L182.66,441.38 L183.36,441.51 L184.05,441.64 L184.74,441.76 L185.43,441.88 L186.12,442.00 L186.81,442.11 L187.50,442.22 L188.20,442.33 L188.89,442.44 L189.58,442.54 L190.27,442.64 L190.96,442.74 L191.65,442.84 L192.34,442.94 L193.04,443.03 L193.73,443.12 L194.42,443.21 L195.11,443.30 L195.80,443.38 L196.49,443.46 L197.19,443.54 L197.88,443.62 L198.57,443.70 L199.26,443.78 L199.95,443.85 L200.64,443.92 L201.33,443.99 L202.03,444.06 L202.72,444.13 L203.41,444.19 L204.10,444.26 L204.79,444.32 L205.48,444.38 L206.17,444.44 L206.87,444.50 L207.56,444.56 L208.25,444.61 L208.94,444.67 L209.63,444.72 L210.32,444.77 L211.01,444.83 L211.71,444.88 L212.40,444.92 L213.09,444.97 L213.78,445.02 L214.47,445.06 L215.16,445.11 L215.86,445.15 L216.55,445.19 L217.24,445.23 L217.93,445.27 L218.62,445.31 L219.31,445.35 L220.00,445.39 L220.70,445.43 L221.39,445.46 L222.08,445.50 L222.77,445.53 L223.46,445.57 L224.15,445.60 L224.84,445.63 L225.54,445.66 L226.23,445.69 L226.92,445.72 L227.61,445.75 L228.30,445.78 L228.99,445.81 L229.68,445.84 L230.38,445.86 L231.07,445.89 L231.76,445.91 L232.45,445.94 L233.14,445.96 L233.83,445.99 L234.53,446.01 L235.22,446.03 L235.91,446.06 L236.60,446.08 L237.29,446.10 L237.98,446.12 L238.67,446.14 L239.37,446.16 L240.06,446.18 L240.75,446.20 L241.44,446.21 L242.13,446.23 L242.82,446.25 L243.51,446.27 L244.21,446.28 L244.90,446.30 L245.59,446.32 L246.28,446.33 L246.97,446.35 L247.66,446.36 L248.35,446.38 L249.05,446.39 L249.74,446.41 L250.43,446.42 L251.12,446.43 L251.81,446.45 L252.50,446.46 L253.20,446.47 L253.89,446.48 L254.58,446.49 L255.27,446.51 L255.96,446.52 L256.65,446.53 L257.34,446.54 L258.04,446.55 L258.73,446.56 L259.42,446.57 L260.11,446.58 L260.80,446.59 L261.49,446.60 L262.18,446.61 L262.88,446.62 L263.57,446.63 L264.26,446.63 L264.95,446.64 L265.64,446.65 L266.33,446.66 L267.02,446.67 L267.72,446.67 L268.41,446.68 L269.10,446.69 L269.79,446.70 L270.48,446.70 L271.17,446.71 L271.86,446.72 L272.56,446.72 L273.25,446.73 L273.94,446.74 L274.63,446.74 L275.32,446.75 L276.01,446.75 L276.71,446.76 L277.40,446.76 L278.09,446.77 L278.78,446.78 L279.47,446.78 L280.16,446.79 L280.85,446.79 L281.55,446.79 L282.24,446.80 L282.93,446.80 L283.62,446.81 L284.31,446.81 L285.00,446.82 L285.69,446.82 L286.39,446.83 L287.08,446.83 L287.77,446.83 L288.46,446.84 L289.15,446.84 L289.84,446.84 L290.53,446.85 L291.23,446.85 L291.92,446.86 L292.61,446.86 L293.30,446.86 L293.99,446.86 L294.68,446.87 L295.38,446.87 L296.07,446.87" fill="none" stroke="#1B68AC" stroke-width="2.3" stroke-linejoin="round" stroke-linecap="round" />
<path d="M87.00,447.00 L87.02,416.50 L87.04,392.76 L87.06,374.30 L87.07,359.93 L87.09,348.77 L87.11,340.09 L87.13,333.35 L87.15,328.12 L87.17,324.07 L87.19,320.93 L87.21,318.50 L87.22,316.64 L87.24,315.20 L87.26,314.10 L87.28,313.26 L87.30,312.63 L87.32,312.15 L87.34,311.80 L87.35,311.55 L87.37,311.37 L87.39,311.25 L87.41,311.17 L87.43,311.13 L87.45,311.12 L87.47,311.13 L87.49,311.15 L87.50,311.19 L87.52,311.24 L87.54,311.30 L87.56,311.36 L87.58,311.43 L87.60,311.50 L87.62,311.58 L87.63,311.65 L87.65,311.73 L87.67,311.81 L87.69,311.89 L87.71,311.97 L87.73,312.06 L87.75,312.14 L87.77,312.22 L87.78,312.30 L87.80,312.39 L87.82,312.47 L87.84,312.55 L87.86,312.64 L87.88,312.72 L87.90,312.80 L87.91,312.89 L87.93,312.97 L87.95,313.06 L87.97,313.14 L87.99,313.22 L88.01,313.31 L88.03,313.39 L88.05,313.47 L88.06,313.56 L88.08,313.64 L88.10,313.72 L88.12,313.81 L88.14,313.89 L88.16,313.97 L88.18,314.06 L88.19,314.14 L88.21,314.22 L88.23,314.31 L88.25,314.39 L88.27,314.47 L88.29,314.55 L88.31,314.64 L88.33,314.72 L88.34,314.80 L88.36,314.88 L88.38,314.97 L88.40,315.05 L88.42,315.13 L88.44,315.21 L88.46,315.30 L88.47,315.38 L88.49,315.46 L88.51,315.54 L88.53,315.63 L88.55,315.71 L88.57,315.79 L88.59,315.87 L88.61,315.95 L88.62,316.04 L88.64,316.12 L88.66,316.20 L88.68,316.28 L88.70,316.36 L88.72,316.44 L88.74,316.53 L88.75,316.61 L88.77,316.69 L88.79,316.77 L88.81,316.85 L88.83,316.93 L88.85,317.01 L88.87,317.10 L88.89,317.18 L88.90,317.26 L88.92,317.34 L88.94,317.42 L88.96,317.50 L88.98,317.58 L89.00,317.66 L89.02,317.74 L89.03,317.82 L89.05,317.90 L89.07,317.99 L89.09,318.07 L89.11,318.15 L89.13,318.23 L89.15,318.31 L89.17,318.39 L89.18,318.47 L89.20,318.55 L89.22,318.63 L89.24,318.71 L89.31,319.03 L90.01,321.96 L90.70,324.82 L91.39,327.62 L92.08,330.35 L92.77,333.02 L93.46,335.63 L94.16,338.18 L94.85,340.67 L95.54,343.10 L96.23,345.48 L96.92,347.80 L97.61,350.07 L98.30,352.29 L99.00,354.46 L99.69,356.58 L100.38,358.64 L101.07,360.67 L101.76,362.64 L102.45,364.57 L103.14,366.46 L103.84,368.30 L104.53,370.10 L105.22,371.86 L105.91,373.58 L106.60,375.26 L107.29,376.91 L107.98,378.51 L108.68,380.08 L109.37,381.61 L110.06,383.11 L110.75,384.57 L111.44,386.00 L112.13,387.39 L112.82,388.76 L113.52,390.09 L114.21,391.39 L114.90,392.66 L115.59,393.91 L116.28,395.12 L116.97,396.31 L117.67,397.47 L118.36,398.60 L119.05,399.71 L119.74,400.79 L120.43,401.85 L121.12,402.88 L121.81,403.89 L122.51,404.88 L123.20,405.85 L123.89,406.79 L124.58,407.71 L125.27,408.61 L125.96,409.49 L126.65,410.34 L127.35,411.18 L128.04,412.00 L128.73,412.80 L129.42,413.59 L130.11,414.35 L130.80,415.10 L131.49,415.83 L132.19,416.54 L132.88,417.24 L133.57,417.92 L134.26,418.59 L134.95,419.24 L135.64,419.87 L136.34,420.49 L137.03,421.10 L137.72,421.69 L138.41,422.27 L139.10,422.84 L139.79,423.39 L140.48,423.93 L141.18,424.46 L141.87,424.97 L142.56,425.48 L143.25,425.97 L143.94,426.45 L144.63,426.92 L145.32,427.38 L146.02,427.83 L146.71,428.27 L147.40,428.70 L148.09,429.12 L148.78,429.53 L149.47,429.93 L150.16,430.32 L150.86,430.70 L151.55,431.07 L152.24,431.44 L152.93,431.79 L153.62,432.14 L154.31,432.48 L155.01,432.81 L155.70,433.14 L156.39,433.45 L157.08,433.76 L157.77,434.07 L158.46,434.36 L159.15,434.65 L159.85,434.94 L160.54,435.21 L161.23,435.48 L161.92,435.74 L162.61,436.00 L163.30,436.25 L163.99,436.50 L164.69,436.74 L165.38,436.98 L166.07,437.20 L166.76,437.43 L167.45,437.65 L168.14,437.86 L168.83,438.07 L169.53,438.28 L170.22,438.48 L170.91,438.67 L171.60,438.86 L172.29,439.05 L172.98,439.23 L173.68,439.41 L174.37,439.58 L175.06,439.75 L175.75,439.92 L176.44,440.08 L177.13,440.24 L177.82,440.39 L178.52,440.54 L179.21,440.69 L179.90,440.84 L180.59,440.98 L181.28,441.11 L181.97,441.25 L182.66,441.38 L183.36,441.51 L184.05,441.63 L184.74,441.76 L185.43,441.88 L186.12,441.99 L186.81,442.11 L187.50,442.22 L188.20,442.33 L188.89,442.44 L189.58,442.54 L190.27,442.64 L190.96,442.74 L191.65,442.84 L192.34,442.94 L193.04,443.03 L193.73,443.12 L194.42,443.21 L195.11,443.30 L195.80,443.38 L196.49,443.46 L197.19,443.54 L197.88,443.62 L198.57,443.70 L199.26,443.78 L199.95,443.85 L200.64,443.92 L201.33,443.99 L202.03,444.06 L202.72,444.13 L203.41,444.19 L204.10,444.26 L204.79,444.32 L205.48,444.38 L206.17,444.44 L206.87,444.50 L207.56,444.56 L208.25,444.61 L208.94,444.67 L209.63,444.72 L210.32,444.77 L211.01,444.83 L211.71,444.87 L212.40,444.92 L213.09,444.97 L213.78,445.02 L214.47,445.06 L215.16,445.11 L215.86,445.15 L216.55,445.19 L217.24,445.23 L217.93,445.27 L218.62,445.31 L219.31,445.35 L220.00,445.39 L220.70,445.43 L221.39,445.46 L222.08,445.50 L222.77,445.53 L223.46,445.57 L224.15,445.60 L224.84,445.63 L225.54,445.66 L226.23,445.69 L226.92,445.72 L227.61,445.75 L228.30,445.78 L228.99,445.81 L229.68,445.84 L230.38,445.86 L231.07,445.89 L231.76,445.91 L232.45,445.94 L233.14,445.96 L233.83,445.99 L234.53,446.01 L235.22,446.03 L235.91,446.05 L236.60,446.08 L237.29,446.10 L237.98,446.12 L238.67,446.14 L239.37,446.16 L240.06,446.18 L240.75,446.20 L241.44,446.21 L242.13,446.23 L242.82,446.25 L243.51,446.27 L244.21,446.28 L244.90,446.30 L245.59,446.32 L246.28,446.33 L246.97,446.35 L247.66,446.36 L248.35,446.38 L249.05,446.39 L249.74,446.41 L250.43,446.42 L251.12,446.43 L251.81,446.45 L252.50,446.46 L253.20,446.47 L253.89,446.48 L254.58,446.49 L255.27,446.51 L255.96,446.52 L256.65,446.53 L257.34,446.54 L258.04,446.55 L258.73,446.56 L259.42,446.57 L260.11,446.58 L260.80,446.59 L261.49,446.60 L262.18,446.61 L262.88,446.62 L263.57,446.63 L264.26,446.63 L264.95,446.64 L265.64,446.65 L266.33,446.66 L267.02,446.67 L267.72,446.67 L268.41,446.68 L269.10,446.69 L269.79,446.70 L270.48,446.70 L271.17,446.71 L271.86,446.72 L272.56,446.72 L273.25,446.73 L273.94,446.74 L274.63,446.74 L275.32,446.75 L276.01,446.75 L276.71,446.76 L277.40,446.76 L278.09,446.77 L278.78,446.78 L279.47,446.78 L280.16,446.79 L280.85,446.79 L281.55,446.79 L282.24,446.80 L282.93,446.80 L283.62,446.81 L284.31,446.81 L285.00,446.82 L285.69,446.82 L286.39,446.83 L287.08,446.83 L287.77,446.83 L288.46,446.84 L289.15,446.84 L289.84,446.84 L290.53,446.85 L291.23,446.85 L291.92,446.86 L292.61,446.86 L293.30,446.86 L293.99,446.86 L294.68,446.87 L295.38,446.87 L296.07,446.87" fill="none" stroke="#C00000" stroke-width="3.1" stroke-linecap="round" stroke-dasharray="0 6.75" stroke-dashoffset="0"/>
<path d="M87.00,447.00 L87.02,427.83 L87.04,411.34 L87.06,397.16 L87.07,384.97 L87.09,374.49 L87.11,365.48 L87.13,357.74 L87.15,351.09 L87.17,345.37 L87.19,340.47 L87.21,336.25 L87.22,332.64 L87.24,329.55 L87.26,326.89 L87.28,324.62 L87.30,322.68 L87.32,321.01 L87.34,319.60 L87.35,318.39 L87.37,317.36 L87.39,316.49 L87.41,315.75 L87.43,315.12 L87.45,314.59 L87.47,314.15 L87.49,313.79 L87.50,313.48 L87.52,313.23 L87.54,313.03 L87.56,312.86 L87.58,312.73 L87.60,312.63 L87.62,312.56 L87.63,312.51 L87.65,312.48 L87.67,312.46 L87.69,312.46 L87.71,312.47 L87.73,312.49 L87.75,312.51 L87.77,312.55 L87.78,312.59 L87.80,312.64 L87.82,312.70 L87.84,312.75 L87.86,312.82 L87.88,312.88 L87.90,312.95 L87.91,313.02 L87.93,313.09 L87.95,313.16 L87.97,313.24 L87.99,313.31 L88.01,313.39 L88.03,313.47 L88.05,313.54 L88.06,313.62 L88.08,313.70 L88.10,313.78 L88.12,313.86 L88.14,313.94 L88.16,314.03 L88.18,314.11 L88.19,314.19 L88.21,314.27 L88.23,314.35 L88.25,314.43 L88.27,314.52 L88.29,314.60 L88.31,314.68 L88.33,314.76 L88.34,314.84 L88.36,314.93 L88.38,315.01 L88.40,315.09 L88.42,315.17 L88.44,315.26 L88.46,315.34 L88.47,315.42 L88.49,315.50 L88.51,315.58 L88.53,315.67 L88.55,315.75 L88.57,315.83 L88.59,315.91 L88.61,315.99 L88.62,316.08 L88.64,316.16 L88.66,316.24 L88.68,316.32 L88.70,316.40 L88.72,316.48 L88.74,316.56 L88.75,316.65 L88.77,316.73 L88.79,316.81 L88.81,316.89 L88.83,316.97 L88.85,317.05 L88.87,317.13 L88.89,317.22 L88.90,317.30 L88.92,317.38 L88.94,317.46 L88.96,317.54 L88.98,317.62 L89.00,317.70 L89.02,317.78 L89.03,317.86 L89.05,317.94 L89.07,318.02 L89.09,318.10 L89.11,318.19 L89.13,318.27 L89.15,318.35 L89.17,318.43 L89.18,318.51 L89.20,318.59 L89.22,318.67 L89.24,318.75 L89.31,319.07 L90.01,322.00 L90.70,324.86 L91.39,327.65 L92.08,330.38 L92.77,333.05 L93.46,335.66 L94.16,338.21 L94.85,340.70 L95.54,343.13 L96.23,345.51 L96.92,347.83 L97.61,350.10 L98.30,352.32 L99.00,354.48 L99.69,356.60 L100.38,358.67 L101.07,360.69 L101.76,362.67 L102.45,364.60 L103.14,366.48 L103.84,368.33 L104.53,370.13 L105.22,371.89 L105.91,373.61 L106.60,375.29 L107.29,376.93 L107.98,378.53 L108.68,380.10 L109.37,381.63 L110.06,383.12 L110.75,384.59 L111.44,386.01 L112.13,387.41 L112.82,388.77 L113.52,390.11 L114.21,391.41 L114.90,392.68 L115.59,393.92 L116.28,395.14 L116.97,396.33 L117.67,397.49 L118.36,398.62 L119.05,399.73 L119.74,400.81 L120.43,401.87 L121.12,402.90 L121.81,403.91 L122.51,404.89 L123.20,405.86 L123.89,406.80 L124.58,407.72 L125.27,408.62 L125.96,409.50 L126.65,410.35 L127.35,411.19 L128.04,412.01 L128.73,412.81 L129.42,413.60 L130.11,414.36 L130.80,415.11 L131.49,415.84 L132.19,416.55 L132.88,417.25 L133.57,417.93 L134.26,418.59 L134.95,419.24 L135.64,419.88 L136.34,420.50 L137.03,421.11 L137.72,421.70 L138.41,422.28 L139.10,422.84 L139.79,423.40 L140.48,423.94 L141.18,424.46 L141.87,424.98 L142.56,425.48 L143.25,425.98 L143.94,426.46 L144.63,426.93 L145.32,427.39 L146.02,427.84 L146.71,428.27 L147.40,428.70 L148.09,429.12 L148.78,429.53 L149.47,429.93 L150.16,430.32 L150.86,430.70 L151.55,431.08 L152.24,431.44 L152.93,431.80 L153.62,432.14 L154.31,432.48 L155.01,432.82 L155.70,433.14 L156.39,433.46 L157.08,433.77 L157.77,434.07 L158.46,434.37 L159.15,434.66 L159.85,434.94 L160.54,435.21 L161.23,435.48 L161.92,435.75 L162.61,436.01 L163.30,436.26 L163.99,436.50 L164.69,436.74 L165.38,436.98 L166.07,437.21 L166.76,437.43 L167.45,437.65 L168.14,437.86 L168.83,438.07 L169.53,438.28 L170.22,438.48 L170.91,438.67 L171.60,438.86 L172.29,439.05 L172.98,439.23 L173.68,439.41 L174.37,439.58 L175.06,439.75 L175.75,439.92 L176.44,440.08 L177.13,440.24 L177.82,440.39 L178.52,440.54 L179.21,440.69 L179.90,440.84 L180.59,440.98 L181.28,441.12 L181.97,441.25 L182.66,441.38 L183.36,441.51 L184.05,441.64 L184.74,441.76 L185.43,441.88 L186.12,442.00 L186.81,442.11 L187.50,442.22 L188.20,442.33 L188.89,442.44 L189.58,442.54 L190.27,442.65 L190.96,442.74 L191.65,442.84 L192.34,442.94 L193.04,443.03 L193.73,443.12 L194.42,443.21 L195.11,443.30 L195.80,443.38 L196.49,443.46 L197.19,443.55 L197.88,443.62 L198.57,443.70 L199.26,443.78 L199.95,443.85 L200.64,443.92 L201.33,443.99 L202.03,444.06 L202.72,444.13 L203.41,444.20 L204.10,444.26 L204.79,444.32 L205.48,444.38 L206.17,444.44 L206.87,444.50 L207.56,444.56 L208.25,444.61 L208.94,444.67 L209.63,444.72 L210.32,444.77 L211.01,444.83 L211.71,444.88 L212.40,444.92 L213.09,444.97 L213.78,445.02 L214.47,445.06 L215.16,445.11 L215.86,445.15 L216.55,445.19 L217.24,445.23 L217.93,445.28 L218.62,445.31 L219.31,445.35 L220.00,445.39 L220.70,445.43 L221.39,445.46 L222.08,445.50 L222.77,445.53 L223.46,445.57 L224.15,445.60 L224.84,445.63 L225.54,445.66 L226.23,445.69 L226.92,445.72 L227.61,445.75 L228.30,445.78 L228.99,445.81 L229.68,445.84 L230.38,445.86 L231.07,445.89 L231.76,445.91 L232.45,445.94 L233.14,445.96 L233.83,445.99 L234.53,446.01 L235.22,446.03 L235.91,446.06 L236.60,446.08 L237.29,446.10 L237.98,446.12 L238.67,446.14 L239.37,446.16 L240.06,446.18 L240.75,446.20 L241.44,446.21 L242.13,446.23 L242.82,446.25 L243.51,446.27 L244.21,446.28 L244.90,446.30 L245.59,446.32 L246.28,446.33 L246.97,446.35 L247.66,446.36 L248.35,446.38 L249.05,446.39 L249.74,446.41 L250.43,446.42 L251.12,446.43 L251.81,446.45 L252.50,446.46 L253.20,446.47 L253.89,446.48 L254.58,446.49 L255.27,446.51 L255.96,446.52 L256.65,446.53 L257.34,446.54 L258.04,446.55 L258.73,446.56 L259.42,446.57 L260.11,446.58 L260.80,446.59 L261.49,446.60 L262.18,446.61 L262.88,446.62 L263.57,446.63 L264.26,446.63 L264.95,446.64 L265.64,446.65 L266.33,446.66 L267.02,446.67 L267.72,446.67 L268.41,446.68 L269.10,446.69 L269.79,446.70 L270.48,446.70 L271.17,446.71 L271.86,446.72 L272.56,446.72 L273.25,446.73 L273.94,446.74 L274.63,446.74 L275.32,446.75 L276.01,446.75 L276.71,446.76 L277.40,446.76 L278.09,446.77 L278.78,446.78 L279.47,446.78 L280.16,446.79 L280.85,446.79 L281.55,446.80 L282.24,446.80 L282.93,446.80 L283.62,446.81 L284.31,446.81 L285.00,446.82 L285.69,446.82 L286.39,446.83 L287.08,446.83 L287.77,446.83 L288.46,446.84 L289.15,446.84 L289.84,446.84 L290.53,446.85 L291.23,446.85 L291.92,446.86 L292.61,446.86 L293.30,446.86 L293.99,446.86 L294.68,446.87 L295.38,446.87 L296.07,446.87" fill="none" stroke="#00B050" stroke-width="3.1" stroke-linecap="round" stroke-dasharray="0 6.75" stroke-dashoffset="0"/>
<line x1="87.4" y1="310.8" x2="170" y2="311.2" stroke="#FF3B3B" stroke-width="1"/>
<line x1="87.4" y1="310.8" x2="129.5" y2="371.0" stroke="#FF3B3B" stroke-width="1"/>
<ellipse cx="177.4" cy="358.65" rx="51.2" ry="48.15" fill="#fff" stroke="#FF3B3B" stroke-width="1.2"/>
<line x1="168.00" y1="334.50" x2="217.60" y2="334.50" stroke="#D9D9D9" stroke-width="0.8"/>
<text x="137.32" y="337.55" font-size="8.6" textLength="22.76" lengthAdjust="spacingAndGlyphs" fill="#595959" >98.2%</text>
<line x1="168.00" y1="357.80" x2="217.60" y2="357.80" stroke="#D9D9D9" stroke-width="0.8"/>
<text x="137.32" y="360.85" font-size="8.6" textLength="22.76" lengthAdjust="spacingAndGlyphs" fill="#595959" >97.8%</text>
<line x1="168.00" y1="381.00" x2="217.60" y2="381.00" stroke="#D9D9D9" stroke-width="0.8"/>
<text x="137.32" y="384.05" font-size="8.6" textLength="22.76" lengthAdjust="spacingAndGlyphs" fill="#595959" >97.4%</text>
<text x="166.19" y="390.20" font-size="6.5" textLength="3.61" lengthAdjust="spacingAndGlyphs" fill="#595959" >0</text>
<text x="187.70" y="390.20" font-size="6.5" textLength="3.61" lengthAdjust="spacingAndGlyphs" fill="#595959" >5</text>
<text x="208.06" y="390.20" font-size="6.5" textLength="7.23" lengthAdjust="spacingAndGlyphs" fill="#595959" >10</text>
<path d="M193.80,380.80 L193.91,379.75 L194.02,378.72 L194.12,377.70 L194.23,376.70 L194.34,375.72 L194.45,374.76 L194.56,373.81 L194.67,372.89 L194.78,371.98 L194.88,371.08 L194.99,370.21 L195.10,369.35 L195.21,368.51 L195.32,367.69 L195.43,366.89 L195.53,366.10 L195.64,365.33 L195.75,364.58 L195.86,363.85 L195.97,363.13 L196.08,362.44 L196.18,361.76 L196.29,361.09 L196.40,360.45 L196.51,359.82 L196.62,359.21 L196.73,358.62 L196.83,358.05 L196.94,357.49 L197.05,356.95 L197.16,356.43 L197.27,355.93 L197.38,355.44 L197.48,354.97 L197.59,354.52 L197.70,354.09 L197.81,353.67 L197.92,353.28 L198.03,352.90 L198.13,352.53 L198.24,352.19 L198.35,351.86 L198.46,351.55 L198.57,351.26 L198.68,350.99 L198.78,350.73 L198.89,350.49 L199.00,350.27 L199.11,350.07 L199.22,349.88 L199.33,349.72 L199.43,349.57 L199.54,349.43 L199.65,349.32 L199.76,349.22 L199.87,349.14 L199.98,349.08 L200.08,349.04 L200.19,349.01 L200.30,349.00 L200.54,349.02 L200.78,349.08 L201.03,349.17 L201.27,349.28 L201.51,349.41 L201.75,349.57 L201.99,349.74 L202.23,349.94 L202.48,350.15 L202.72,350.38 L202.96,350.63 L203.20,350.90 L203.44,351.19 L203.68,351.49 L203.93,351.81 L204.17,352.15 L204.41,352.50 L204.65,352.87 L204.89,353.25 L205.13,353.65 L205.38,354.06 L205.62,354.49 L205.86,354.94 L206.10,355.40 L206.34,355.87 L206.58,356.36 L206.83,356.86 L207.07,357.38 L207.31,357.91 L207.55,358.45 L207.79,359.01 L208.03,359.58 L208.28,360.17 L208.52,360.77 L208.76,361.38 L209.00,362.01 L209.24,362.65 L209.48,363.30 L209.73,363.96 L209.97,364.64 L210.21,365.33 L210.45,366.04 L210.69,366.75 L210.93,367.48 L211.18,368.22 L211.42,368.98 L211.66,369.74 L211.90,370.52 L212.14,371.31 L212.38,372.11 L212.62,372.93 L212.87,373.76 L213.11,374.59 L213.35,375.45 L213.59,376.31 L213.83,377.18 L214.08,378.07 L214.32,378.97 L214.56,379.88 L214.80,380.80" fill="none" stroke="#3A84C8" stroke-width="1.5" stroke-linejoin="round" stroke-linecap="round" />
<path d="M189.00,380.80 L189.10,379.15 L189.21,377.54 L189.31,375.94 L189.41,374.38 L189.52,372.85 L189.62,371.34 L189.72,369.86 L189.83,368.41 L189.93,366.98 L190.03,365.58 L190.14,364.21 L190.24,362.87 L190.34,361.56 L190.45,360.27 L190.55,359.01 L190.65,357.78 L190.76,356.58 L190.86,355.40 L190.96,354.25 L191.07,353.13 L191.17,352.04 L191.27,350.98 L191.38,349.94 L191.48,348.93 L191.58,347.95 L191.69,346.99 L191.79,346.06 L191.89,345.17 L192.00,344.29 L192.10,343.45 L192.20,342.63 L192.31,341.85 L192.41,341.08 L192.51,340.35 L192.62,339.65 L192.72,338.97 L192.82,338.32 L192.93,337.70 L193.03,337.10 L193.13,336.53 L193.24,335.99 L193.34,335.48 L193.44,335.00 L193.55,334.54 L193.65,334.11 L193.75,333.71 L193.86,333.34 L193.96,332.99 L194.06,332.67 L194.17,332.38 L194.27,332.12 L194.37,331.89 L194.48,331.68 L194.58,331.50 L194.68,331.35 L194.79,331.22 L194.89,331.12 L194.99,331.06 L195.10,331.01 L195.20,331.00 L195.53,331.04 L195.85,331.13 L196.18,331.26 L196.51,331.44 L196.83,331.64 L197.16,331.89 L197.49,332.16 L197.81,332.47 L198.14,332.80 L198.47,333.17 L198.79,333.56 L199.12,333.98 L199.45,334.43 L199.77,334.90 L200.10,335.40 L200.43,335.93 L200.75,336.48 L201.08,337.06 L201.41,337.66 L201.73,338.28 L202.06,338.93 L202.39,339.60 L202.71,340.30 L203.04,341.02 L203.37,341.76 L203.69,342.53 L204.02,343.31 L204.35,344.12 L204.67,344.95 L205.00,345.81 L205.33,346.68 L205.65,347.58 L205.98,348.49 L206.31,349.43 L206.63,350.39 L206.96,351.37 L207.29,352.37 L207.61,353.39 L207.94,354.43 L208.27,355.49 L208.59,356.58 L208.92,357.68 L209.25,358.80 L209.57,359.94 L209.90,361.10 L210.23,362.28 L210.55,363.48 L210.88,364.70 L211.21,365.94 L211.53,367.20 L211.86,368.47 L212.19,369.77 L212.51,371.08 L212.84,372.41 L213.17,373.77 L213.49,375.14 L213.82,376.52 L214.15,377.93 L214.47,379.36 L214.80,380.80" fill="none" stroke="#C00000" stroke-width="1.7" stroke-linecap="round" stroke-dasharray="0 3.3" />
<path d="M196.70,380.80 L196.81,379.99 L196.92,379.19 L197.02,378.41 L197.13,377.64 L197.24,376.89 L197.35,376.15 L197.46,375.42 L197.57,374.70 L197.67,374.00 L197.78,373.31 L197.89,372.64 L198.00,371.98 L198.11,371.33 L198.22,370.70 L198.32,370.08 L198.43,369.48 L198.54,368.88 L198.65,368.31 L198.76,367.74 L198.87,367.19 L198.97,366.65 L199.08,366.13 L199.19,365.62 L199.30,365.12 L199.41,364.64 L199.52,364.17 L199.62,363.71 L199.73,363.27 L199.84,362.84 L199.95,362.43 L200.06,362.02 L200.17,361.64 L200.27,361.26 L200.38,360.90 L200.49,360.55 L200.60,360.22 L200.71,359.90 L200.82,359.59 L200.92,359.30 L201.03,359.02 L201.14,358.76 L201.25,358.50 L201.36,358.27 L201.47,358.04 L201.57,357.83 L201.68,357.63 L201.79,357.45 L201.90,357.28 L202.01,357.12 L202.12,356.98 L202.22,356.85 L202.33,356.74 L202.44,356.63 L202.55,356.55 L202.66,356.47 L202.77,356.41 L202.88,356.36 L202.98,356.33 L203.09,356.31 L203.20,356.30 L203.39,356.32 L203.59,356.36 L203.78,356.43 L203.97,356.51 L204.17,356.62 L204.36,356.74 L204.55,356.87 L204.75,357.02 L204.94,357.19 L205.13,357.37 L205.33,357.56 L205.52,357.77 L205.71,357.99 L205.91,358.22 L206.10,358.47 L206.29,358.72 L206.49,359.00 L206.68,359.28 L206.87,359.58 L207.07,359.88 L207.26,360.20 L207.45,360.53 L207.65,360.88 L207.84,361.23 L208.03,361.59 L208.23,361.97 L208.42,362.36 L208.61,362.76 L208.81,363.16 L209.00,363.58 L209.19,364.01 L209.39,364.45 L209.58,364.91 L209.77,365.37 L209.97,365.84 L210.16,366.32 L210.35,366.81 L210.55,367.32 L210.74,367.83 L210.93,368.35 L211.13,368.88 L211.32,369.42 L211.51,369.98 L211.71,370.54 L211.90,371.11 L212.09,371.69 L212.29,372.28 L212.48,372.88 L212.67,373.49 L212.87,374.11 L213.06,374.74 L213.25,375.37 L213.45,376.02 L213.64,376.67 L213.83,377.34 L214.03,378.01 L214.22,378.70 L214.41,379.39 L214.61,380.09 L214.80,380.80" fill="none" stroke="#00B050" stroke-width="1.7" stroke-linecap="round" stroke-dasharray="0 3.3" />
<text x="443.28" y="285.50" font-size="14.1" textLength="178.46" lengthAdjust="spacingAndGlyphs" fill="#595959" >Time-Activity Curve in Urine</text>
<line x1="445.50" y1="445.80" x2="652.70" y2="445.80" stroke="#D9D9D9" stroke-width="1"/>
<text x="385.33" y="449.55" font-size="11.7" textLength="47.09" lengthAdjust="spacingAndGlyphs" fill="#595959" >0.0000%</text>
<line x1="445.50" y1="412.48" x2="652.70" y2="412.48" stroke="#D9D9D9" stroke-width="1"/>
<text x="385.33" y="416.23" font-size="11.7" textLength="47.09" lengthAdjust="spacingAndGlyphs" fill="#595959" >0.0020%</text>
<line x1="445.50" y1="379.15" x2="652.70" y2="379.15" stroke="#D9D9D9" stroke-width="1"/>
<text x="385.33" y="382.90" font-size="11.7" textLength="47.09" lengthAdjust="spacingAndGlyphs" fill="#595959" >0.0040%</text>
<line x1="445.50" y1="345.82" x2="652.70" y2="345.82" stroke="#D9D9D9" stroke-width="1"/>
<text x="385.33" y="349.57" font-size="11.7" textLength="47.09" lengthAdjust="spacingAndGlyphs" fill="#595959" >0.0060%</text>
<line x1="445.50" y1="312.50" x2="652.70" y2="312.50" stroke="#D9D9D9" stroke-width="1"/>
<text x="385.33" y="316.25" font-size="11.7" textLength="47.09" lengthAdjust="spacingAndGlyphs" fill="#595959" >0.0080%</text>
<text x="441.97" y="468.20" font-size="11.7" textLength="7.05" lengthAdjust="spacingAndGlyphs" fill="#595959" >0</text>
<text x="487.02" y="468.20" font-size="11.7" textLength="20.55" lengthAdjust="spacingAndGlyphs" fill="#595959" >500</text>
<text x="534.98" y="468.20" font-size="11.7" textLength="27.78" lengthAdjust="spacingAndGlyphs" fill="#595959" >1000</text>
<text x="586.78" y="468.20" font-size="11.7" textLength="27.78" lengthAdjust="spacingAndGlyphs" fill="#595959" >1500</text>
<text x="638.91" y="468.20" font-size="11.7" textLength="27.44" lengthAdjust="spacingAndGlyphs" fill="#595959" >2000</text>
<text transform="rotate(-90)" x="-437.92" y="376.70" font-size="13.8" textLength="119.89" lengthAdjust="spacingAndGlyphs" fill="#595959">Relative Activity [%]</text>
<text x="506.89" y="489.90" font-size="13.8" textLength="50.31" lengthAdjust="spacingAndGlyphs" fill="#595959" >Time [d]</text>
<text x="354.65" y="503.00" font-size="16.1" textLength="20.70" lengthAdjust="spacingAndGlyphs" fill="#000" >(d)</text>
<path d="M574.90,358.60 L614.10,358.60" fill="none" stroke="#5B9BD5" stroke-width="3.6" stroke-linejoin="round" stroke-linecap="round" />
<path d="M575.40,383.40 L609.50,383.40" fill="none" stroke="#C00000" stroke-width="3.1" stroke-linecap="round" stroke-dasharray="0 6.8" />
<path d="M575.40,408.60 L609.50,408.60" fill="none" stroke="#00B050" stroke-width="3.1" stroke-linecap="round" stroke-dasharray="0 6.8" />
<text x="617.56" y="362.00" font-size="12.7" textLength="41.36" lengthAdjust="spacingAndGlyphs" fill="#595959" >median</text>
<text x="617.56" y="387.30" font-size="12.7" textLength="23.99" lengthAdjust="spacingAndGlyphs" fill="#595959" >max</text>
<text x="617.56" y="412.50" font-size="12.7" textLength="20.46" lengthAdjust="spacingAndGlyphs" fill="#595959" >min</text>
<path d="M445.50,445.80 L445.53,442.56 L445.55,439.70 L445.58,437.17 L445.60,434.95 L445.63,432.98 L445.66,431.25 L445.68,429.72 L445.71,428.38 L445.73,427.19 L445.76,426.14 L445.78,425.22 L445.81,424.41 L445.84,423.69 L445.86,423.06 L445.89,422.51 L445.91,422.02 L445.94,421.59 L445.97,421.21 L445.99,420.87 L446.02,420.58 L446.04,420.32 L446.07,420.10 L446.10,419.90 L446.12,419.73 L446.15,419.57 L446.17,419.44 L446.20,419.32 L446.23,419.22 L446.25,419.13 L446.28,419.06 L446.30,418.99 L446.33,418.93 L446.35,418.88 L446.38,418.84 L446.41,418.80 L446.43,418.77 L446.46,418.75 L446.48,418.72 L446.51,418.71 L446.54,418.69 L446.56,418.68 L446.59,418.67 L446.61,418.66 L446.64,418.66 L446.67,418.65 L446.69,418.65 L446.72,418.65 L446.74,418.65 L446.77,418.65 L446.80,418.66 L446.82,418.66 L446.85,418.66 L446.87,418.67 L446.90,418.67 L446.92,418.68 L446.95,418.69 L446.98,418.69 L447.00,418.70 L447.03,418.71 L447.05,418.72 L447.08,418.73 L447.11,418.73 L447.13,418.74 L447.16,418.75 L447.18,418.76 L447.21,418.77 L447.24,418.78 L447.26,418.79 L447.29,418.80 L447.31,418.80 L447.34,418.81 L447.36,418.82 L447.39,418.83 L447.42,418.84 L447.44,418.85 L447.47,418.86 L447.49,418.87 L447.52,418.88 L447.55,418.89 L447.57,418.90 L447.60,418.91 L447.62,418.92 L447.65,418.93 L447.68,418.94 L447.70,418.95 L447.73,418.96 L447.75,418.97 L447.78,418.98 L447.81,418.99 L447.83,419.00 L447.86,419.01 L447.88,419.02 L447.91,419.03 L447.93,419.04 L447.96,419.05 L447.99,419.06 L448.01,419.07 L448.04,419.08 L448.06,419.09 L448.09,419.10 L448.12,419.11 L448.14,419.12 L448.17,419.13 L448.19,419.14 L448.22,419.15 L448.25,419.16 L448.27,419.17 L448.30,419.18 L448.32,419.19 L448.35,419.20 L448.37,419.21 L448.40,419.22 L448.43,419.23 L448.45,419.24 L448.48,419.25 L448.50,419.26 L448.53,419.27 L448.56,419.28 L448.58,419.29 L448.61,419.30 L448.71,419.34 L449.22,419.54 L449.73,419.74 L450.25,419.93 L450.76,420.13 L451.27,420.33 L451.78,420.53 L452.29,420.74 L452.80,420.94 L453.31,421.14 L453.82,421.34 L454.34,421.54 L454.85,421.74 L455.36,421.94 L455.87,422.14 L456.38,422.34 L456.89,422.54 L457.40,422.74 L457.91,422.94 L458.43,423.14 L458.94,423.33 L459.45,423.53 L459.96,423.73 L460.47,423.92 L460.98,424.12 L461.49,424.31 L462.00,424.51 L462.52,424.70 L463.03,424.89 L463.54,425.08 L464.05,425.27 L464.56,425.46 L465.07,425.65 L465.58,425.84 L466.09,426.03 L466.61,426.21 L467.12,426.40 L467.63,426.58 L468.14,426.76 L468.65,426.94 L469.16,427.13 L469.67,427.30 L470.18,427.48 L470.70,427.66 L471.21,427.84 L471.72,428.01 L472.23,428.18 L472.74,428.36 L473.25,428.53 L473.76,428.70 L474.27,428.87 L474.79,429.03 L475.30,429.20 L475.81,429.37 L476.32,429.53 L476.83,429.69 L477.34,429.85 L477.85,430.01 L478.36,430.17 L478.88,430.33 L479.39,430.49 L479.90,430.64 L480.41,430.80 L480.92,430.95 L481.43,431.10 L481.94,431.25 L482.45,431.40 L482.97,431.55 L483.48,431.69 L483.99,431.84 L484.50,431.98 L485.01,432.13 L485.52,432.27 L486.03,432.41 L486.54,432.55 L487.06,432.69 L487.57,432.82 L488.08,432.96 L488.59,433.09 L489.10,433.23 L489.61,433.36 L490.12,433.49 L490.63,433.62 L491.15,433.75 L491.66,433.87 L492.17,434.00 L492.68,434.12 L493.19,434.25 L493.70,434.37 L494.21,434.49 L494.72,434.61 L495.24,434.73 L495.75,434.85 L496.26,434.96 L496.77,435.08 L497.28,435.19 L497.79,435.31 L498.30,435.42 L498.81,435.53 L499.33,435.64 L499.84,435.75 L500.35,435.86 L500.86,435.97 L501.37,436.07 L501.88,436.18 L502.39,436.28 L502.90,436.38 L503.42,436.49 L503.93,436.59 L504.44,436.69 L504.95,436.78 L505.46,436.88 L505.97,436.98 L506.48,437.07 L506.99,437.17 L507.51,437.26 L508.02,437.36 L508.53,437.45 L509.04,437.54 L509.55,437.63 L510.06,437.72 L510.57,437.81 L511.08,437.89 L511.60,437.98 L512.11,438.07 L512.62,438.15 L513.13,438.23 L513.64,438.32 L514.15,438.40 L514.66,438.48 L515.17,438.56 L515.69,438.64 L516.20,438.72 L516.71,438.80 L517.22,438.87 L517.73,438.95 L518.24,439.03 L518.75,439.10 L519.26,439.17 L519.78,439.25 L520.29,439.32 L520.80,439.39 L521.31,439.46 L521.82,439.53 L522.33,439.60 L522.84,439.67 L523.35,439.74 L523.87,439.80 L524.38,439.87 L524.89,439.94 L525.40,440.00 L525.91,440.07 L526.42,440.13 L526.93,440.19 L527.44,440.25 L527.96,440.32 L528.47,440.38 L528.98,440.44 L529.49,440.50 L530.00,440.56 L530.51,440.61 L531.02,440.67 L531.53,440.73 L532.05,440.79 L532.56,440.84 L533.07,440.90 L533.58,440.95 L534.09,441.01 L534.60,441.06 L535.11,441.11 L535.62,441.16 L536.14,441.22 L536.65,441.27 L537.16,441.32 L537.67,441.37 L538.18,441.42 L538.69,441.47 L539.20,441.51 L539.71,441.56 L540.23,441.61 L540.74,441.66 L541.25,441.70 L541.76,441.75 L542.27,441.79 L542.78,441.84 L543.29,441.88 L543.80,441.93 L544.32,441.97 L544.83,442.01 L545.34,442.06 L545.85,442.10 L546.36,442.14 L546.87,442.18 L547.38,442.22 L547.89,442.26 L548.41,442.30 L548.92,442.34 L549.43,442.38 L549.94,442.42 L550.45,442.45 L550.96,442.49 L551.47,442.53 L551.98,442.57 L552.50,442.60 L553.01,442.64 L553.52,442.67 L554.03,442.71 L554.54,442.74 L555.05,442.78 L555.56,442.81 L556.07,442.85 L556.59,442.88 L557.10,442.91 L557.61,442.94 L558.12,442.98 L558.63,443.01 L559.14,443.04 L559.65,443.07 L560.16,443.10 L560.68,443.13 L561.19,443.16 L561.70,443.19 L562.21,443.22 L562.72,443.25 L563.23,443.28 L563.74,443.31 L564.25,443.33 L564.77,443.36 L565.28,443.39 L565.79,443.42 L566.30,443.44 L566.81,443.47 L567.32,443.50 L567.83,443.52 L568.34,443.55 L568.86,443.57 L569.37,443.60 L569.88,443.62 L570.39,443.65 L570.90,443.67 L571.41,443.70 L571.92,443.72 L572.43,443.74 L572.95,443.77 L573.46,443.79 L573.97,443.81 L574.48,443.83 L574.99,443.86 L575.50,443.88 L576.01,443.90 L576.52,443.92 L577.04,443.94 L577.55,443.96 L578.06,443.98 L578.57,444.00 L579.08,444.02 L579.59,444.04 L580.10,444.06 L580.61,444.08 L581.13,444.10 L581.64,444.12 L582.15,444.14 L582.66,444.16 L583.17,444.18 L583.68,444.20 L584.19,444.22 L584.70,444.23 L585.22,444.25 L585.73,444.27 L586.24,444.29 L586.75,444.30 L587.26,444.32 L587.77,444.34 L588.28,444.35 L588.79,444.37 L589.31,444.39 L589.82,444.40 L590.33,444.42 L590.84,444.43 L591.35,444.45 L591.86,444.46 L592.37,444.48 L592.88,444.49 L593.40,444.51 L593.91,444.52 L594.42,444.54 L594.93,444.55 L595.44,444.57 L595.95,444.58 L596.46,444.59 L596.97,444.61 L597.49,444.62 L598.00,444.63 L598.51,444.65 L599.02,444.66 L599.53,444.67 L600.04,444.69 L600.55,444.70 L601.06,444.71 L601.58,444.72 L602.09,444.73 L602.60,444.75 L603.11,444.76 L603.62,444.77 L604.13,444.78 L604.64,444.79 L605.15,444.81 L605.67,444.82 L606.18,444.83 L606.69,444.84 L607.20,444.85 L607.71,444.86 L608.22,444.87 L608.73,444.88 L609.24,444.89 L609.76,444.90 L610.27,444.91 L610.78,444.92 L611.29,444.93 L611.80,444.94 L612.31,444.95 L612.82,444.96 L613.33,444.97 L613.85,444.98 L614.36,444.99 L614.87,445.00 L615.38,445.01 L615.89,445.02 L616.40,445.03 L616.91,445.03 L617.42,445.04 L617.94,445.05 L618.45,445.06 L618.96,445.07 L619.47,445.08 L619.98,445.08 L620.49,445.09 L621.00,445.10 L621.51,445.11 L622.03,445.12 L622.54,445.12 L623.05,445.13 L623.56,445.14 L624.07,445.15 L624.58,445.15 L625.09,445.16 L625.60,445.17 L626.12,445.18 L626.63,445.18 L627.14,445.19 L627.65,445.20 L628.16,445.20 L628.67,445.21 L629.18,445.22 L629.69,445.22 L630.21,445.23 L630.72,445.24 L631.23,445.24 L631.74,445.25 L632.25,445.26 L632.76,445.26 L633.27,445.27 L633.78,445.27 L634.30,445.28 L634.81,445.29 L635.32,445.29 L635.83,445.30 L636.34,445.30 L636.85,445.31 L637.36,445.31 L637.87,445.32 L638.39,445.32 L638.90,445.33 L639.41,445.34 L639.92,445.34 L640.43,445.35 L640.94,445.35 L641.45,445.36 L641.96,445.36 L642.48,445.37 L642.99,445.37 L643.50,445.38 L644.01,445.38 L644.52,445.39 L645.03,445.39 L645.54,445.39 L646.05,445.40 L646.57,445.40 L647.08,445.41 L647.59,445.41 L648.10,445.42 L648.61,445.42 L649.12,445.43 L649.63,445.43 L650.14,445.43 L650.66,445.44 L651.17,445.44 L651.68,445.45 L652.19,445.45 L652.70,445.45" fill="none" stroke="#5B9BD5" stroke-width="3.8" stroke-linejoin="round" stroke-linecap="round" />
<path d="M445.50,445.80 L445.53,436.08 L445.55,427.05 L445.58,418.65 L445.60,410.84 L445.63,403.59 L445.66,396.85 L445.68,390.59 L445.71,384.77 L445.73,379.36 L445.76,374.34 L445.78,369.67 L445.81,365.33 L445.84,361.31 L445.86,357.56 L445.89,354.09 L445.91,350.86 L445.94,347.86 L445.97,345.08 L445.99,342.49 L446.02,340.09 L446.04,337.86 L446.07,335.79 L446.10,333.87 L446.12,332.09 L446.15,330.44 L446.17,328.90 L446.20,327.48 L446.23,326.16 L446.25,324.94 L446.28,323.81 L446.30,322.76 L446.33,321.78 L446.35,320.88 L446.38,320.05 L446.41,319.27 L446.43,318.56 L446.46,317.90 L446.48,317.29 L446.51,316.72 L446.54,316.20 L446.56,315.72 L446.59,315.27 L446.61,314.86 L446.64,314.49 L446.67,314.14 L446.69,313.82 L446.72,313.53 L446.74,313.26 L446.77,313.01 L446.80,312.78 L446.82,312.58 L446.85,312.39 L446.87,312.22 L446.90,312.06 L446.92,311.92 L446.95,311.79 L446.98,311.67 L447.00,311.57 L447.03,311.47 L447.05,311.39 L447.08,311.32 L447.11,311.25 L447.13,311.19 L447.16,311.14 L447.18,311.10 L447.21,311.06 L447.24,311.03 L447.26,311.01 L447.29,310.99 L447.31,310.98 L447.34,310.97 L447.36,310.96 L447.39,310.96 L447.42,310.96 L447.44,310.96 L447.47,310.97 L447.49,310.98 L447.52,311.00 L447.55,311.01 L447.57,311.03 L447.60,311.05 L447.62,311.08 L447.65,311.10 L447.68,311.13 L447.70,311.16 L447.73,311.19 L447.75,311.22 L447.78,311.25 L447.81,311.28 L447.83,311.32 L447.86,311.36 L447.88,311.39 L447.91,311.43 L447.93,311.47 L447.96,311.51 L447.99,311.55 L448.01,311.59 L448.04,311.63 L448.06,311.67 L448.09,311.72 L448.12,311.76 L448.14,311.80 L448.17,311.85 L448.19,311.89 L448.22,311.94 L448.25,311.98 L448.27,312.03 L448.30,312.08 L448.32,312.12 L448.35,312.17 L448.37,312.22 L448.40,312.26 L448.43,312.31 L448.45,312.36 L448.48,312.41 L448.50,312.45 L448.53,312.50 L448.56,312.55 L448.58,312.60 L448.61,312.65 L448.71,312.84 L449.22,313.83 L449.73,314.82 L450.25,315.82 L450.76,316.83 L451.27,317.83 L451.78,318.84 L452.29,319.85 L452.80,320.85 L453.31,321.86 L453.82,322.87 L454.34,323.88 L454.85,324.89 L455.36,325.90 L455.87,326.91 L456.38,327.91 L456.89,328.91 L457.40,329.92 L457.91,330.91 L458.43,331.91 L458.94,332.90 L459.45,333.90 L459.96,334.88 L460.47,335.87 L460.98,336.85 L461.49,337.83 L462.00,338.80 L462.52,339.77 L463.03,340.74 L463.54,341.70 L464.05,342.66 L464.56,343.61 L465.07,344.56 L465.58,345.50 L466.09,346.44 L466.61,347.37 L467.12,348.30 L467.63,349.22 L468.14,350.14 L468.65,351.05 L469.16,351.96 L469.67,352.86 L470.18,353.75 L470.70,354.64 L471.21,355.53 L471.72,356.40 L472.23,357.28 L472.74,358.14 L473.25,359.00 L473.76,359.86 L474.27,360.71 L474.79,361.55 L475.30,362.38 L475.81,363.21 L476.32,364.04 L476.83,364.86 L477.34,365.67 L477.85,366.47 L478.36,367.27 L478.88,368.06 L479.39,368.85 L479.90,369.63 L480.41,370.41 L480.92,371.17 L481.43,371.93 L481.94,372.69 L482.45,373.44 L482.97,374.18 L483.48,374.92 L483.99,375.65 L484.50,376.37 L485.01,377.09 L485.52,377.80 L486.03,378.51 L486.54,379.21 L487.06,379.90 L487.57,380.59 L488.08,381.27 L488.59,381.94 L489.10,382.61 L489.61,383.27 L490.12,383.93 L490.63,384.58 L491.15,385.23 L491.66,385.86 L492.17,386.50 L492.68,387.12 L493.19,387.75 L493.70,388.36 L494.21,388.97 L494.72,389.57 L495.24,390.17 L495.75,390.76 L496.26,391.35 L496.77,391.93 L497.28,392.51 L497.79,393.08 L498.30,393.64 L498.81,394.20 L499.33,394.76 L499.84,395.30 L500.35,395.85 L500.86,396.38 L501.37,396.92 L501.88,397.44 L502.39,397.97 L502.90,398.48 L503.42,398.99 L503.93,399.50 L504.44,400.00 L504.95,400.50 L505.46,400.99 L505.97,401.47 L506.48,401.96 L506.99,402.43 L507.51,402.90 L508.02,403.37 L508.53,403.83 L509.04,404.29 L509.55,404.74 L510.06,405.19 L510.57,405.63 L511.08,406.07 L511.60,406.51 L512.11,406.94 L512.62,407.36 L513.13,407.78 L513.64,408.20 L514.15,408.61 L514.66,409.02 L515.17,409.42 L515.69,409.82 L516.20,410.22 L516.71,410.61 L517.22,411.00 L517.73,411.38 L518.24,411.76 L518.75,412.14 L519.26,412.51 L519.78,412.87 L520.29,413.24 L520.80,413.60 L521.31,413.95 L521.82,414.30 L522.33,414.65 L522.84,415.00 L523.35,415.34 L523.87,415.67 L524.38,416.01 L524.89,416.34 L525.40,416.66 L525.91,416.99 L526.42,417.31 L526.93,417.62 L527.44,417.94 L527.96,418.24 L528.47,418.55 L528.98,418.85 L529.49,419.15 L530.00,419.45 L530.51,419.74 L531.02,420.03 L531.53,420.32 L532.05,420.60 L532.56,420.88 L533.07,421.16 L533.58,421.43 L534.09,421.71 L534.60,421.97 L535.11,422.24 L535.62,422.50 L536.14,422.76 L536.65,423.02 L537.16,423.27 L537.67,423.52 L538.18,423.77 L538.69,424.02 L539.20,424.26 L539.71,424.50 L540.23,424.74 L540.74,424.98 L541.25,425.21 L541.76,425.44 L542.27,425.67 L542.78,425.89 L543.29,426.12 L543.80,426.34 L544.32,426.55 L544.83,426.77 L545.34,426.98 L545.85,427.19 L546.36,427.40 L546.87,427.61 L547.38,427.81 L547.89,428.01 L548.41,428.21 L548.92,428.41 L549.43,428.60 L549.94,428.80 L550.45,428.99 L550.96,429.18 L551.47,429.36 L551.98,429.55 L552.50,429.73 L553.01,429.91 L553.52,430.09 L554.03,430.26 L554.54,430.44 L555.05,430.61 L555.56,430.78 L556.07,430.95 L556.59,431.12 L557.10,431.28 L557.61,431.45 L558.12,431.61 L558.63,431.77 L559.14,431.92 L559.65,432.08 L560.16,432.23 L560.68,432.39 L561.19,432.54 L561.70,432.69 L562.21,432.83 L562.72,432.98 L563.23,433.12 L563.74,433.27 L564.25,433.41 L564.77,433.55 L565.28,433.69 L565.79,433.82 L566.30,433.96 L566.81,434.09 L567.32,434.22 L567.83,434.35 L568.34,434.48 L568.86,434.61 L569.37,434.74 L569.88,434.86 L570.39,434.98 L570.90,435.10 L571.41,435.23 L571.92,435.34 L572.43,435.46 L572.95,435.58 L573.46,435.69 L573.97,435.81 L574.48,435.92 L574.99,436.03 L575.50,436.14 L576.01,436.25 L576.52,436.36 L577.04,436.47 L577.55,436.57 L578.06,436.67 L578.57,436.78 L579.08,436.88 L579.59,436.98 L580.10,437.08 L580.61,437.18 L581.13,437.27 L581.64,437.37 L582.15,437.47 L582.66,437.56 L583.17,437.65 L583.68,437.75 L584.19,437.84 L584.70,437.93 L585.22,438.01 L585.73,438.10 L586.24,438.19 L586.75,438.28 L587.26,438.36 L587.77,438.44 L588.28,438.53 L588.79,438.61 L589.31,438.69 L589.82,438.77 L590.33,438.85 L590.84,438.93 L591.35,439.01 L591.86,439.08 L592.37,439.16 L592.88,439.23 L593.40,439.31 L593.91,439.38 L594.42,439.45 L594.93,439.53 L595.44,439.60 L595.95,439.67 L596.46,439.74 L596.97,439.80 L597.49,439.87 L598.00,439.94 L598.51,440.01 L599.02,440.07 L599.53,440.14 L600.04,440.20 L600.55,440.26 L601.06,440.33 L601.58,440.39 L602.09,440.45 L602.60,440.51 L603.11,440.57 L603.62,440.63 L604.13,440.69 L604.64,440.74 L605.15,440.80 L605.67,440.86 L606.18,440.91 L606.69,440.97 L607.20,441.02 L607.71,441.08 L608.22,441.13 L608.73,441.18 L609.24,441.24 L609.76,441.29 L610.27,441.34 L610.78,441.39 L611.29,441.44 L611.80,441.49 L612.31,441.54 L612.82,441.58 L613.33,441.63 L613.85,441.68 L614.36,441.73 L614.87,441.77 L615.38,441.82 L615.89,441.86 L616.40,441.91 L616.91,441.95 L617.42,441.99 L617.94,442.04 L618.45,442.08 L618.96,442.12 L619.47,442.16 L619.98,442.20 L620.49,442.25 L621.00,442.29 L621.51,442.33 L622.03,442.36 L622.54,442.40 L623.05,442.44 L623.56,442.48 L624.07,442.52 L624.58,442.55 L625.09,442.59 L625.60,442.63 L626.12,442.66 L626.63,442.70 L627.14,442.73 L627.65,442.77 L628.16,442.80 L628.67,442.84 L629.18,442.87 L629.69,442.90 L630.21,442.94 L630.72,442.97 L631.23,443.00 L631.74,443.03 L632.25,443.06 L632.76,443.09 L633.27,443.13 L633.78,443.16 L634.30,443.19 L634.81,443.21 L635.32,443.24 L635.83,443.27 L636.34,443.30 L636.85,443.33 L637.36,443.36 L637.87,443.39 L638.39,443.41 L638.90,443.44 L639.41,443.47 L639.92,443.49 L640.43,443.52 L640.94,443.54 L641.45,443.57 L641.96,443.60 L642.48,443.62 L642.99,443.65 L643.50,443.67 L644.01,443.69 L644.52,443.72 L645.03,443.74 L645.54,443.76 L646.05,443.79 L646.57,443.81 L647.08,443.83 L647.59,443.85 L648.10,443.88 L648.61,443.90 L649.12,443.92 L649.63,443.94 L650.14,443.96 L650.66,443.98 L651.17,444.00 L651.68,444.02 L652.19,444.04 L652.70,444.06" fill="none" stroke="#C00000" stroke-width="3.1" stroke-linecap="round" stroke-dasharray="0 6.75" />
<path d="M445.50,445.80 L445.53,445.80 L445.55,445.80 L445.58,445.80 L445.60,445.80 L445.63,445.80 L445.66,445.80 L445.68,445.80 L445.71,445.80 L445.73,445.80 L445.76,445.80 L445.78,445.80 L445.81,445.80 L445.84,445.80 L445.86,445.80 L445.89,445.80 L445.91,445.80 L445.94,445.80 L445.97,445.80 L445.99,445.80 L446.02,445.80 L446.04,445.80 L446.07,445.80 L446.10,445.80 L446.12,445.80 L446.15,445.80 L446.17,445.80 L446.20,445.80 L446.23,445.80 L446.25,445.80 L446.28,445.80 L446.30,445.80 L446.33,445.80 L446.35,445.80 L446.38,445.80 L446.41,445.80 L446.43,445.80 L446.46,445.80 L446.48,445.80 L446.51,445.80 L446.54,445.80 L446.56,445.80 L446.59,445.80 L446.61,445.80 L446.64,445.80 L446.67,445.80 L446.69,445.80 L446.72,445.80 L446.74,445.80 L446.77,445.80 L446.80,445.80 L446.82,445.80 L446.85,445.80 L446.87,445.80 L446.90,445.80 L446.92,445.80 L446.95,445.80 L446.98,445.80 L447.00,445.80 L447.03,445.80 L447.05,445.80 L447.08,445.80 L447.11,445.80 L447.13,445.80 L447.16,445.80 L447.18,445.80 L447.21,445.80 L447.24,445.80 L447.26,445.80 L447.29,445.80 L447.31,445.80 L447.34,445.80 L447.36,445.80 L447.39,445.80 L447.42,445.80 L447.44,445.80 L447.47,445.80 L447.49,445.80 L447.52,445.80 L447.55,445.80 L447.57,445.80 L447.60,445.80 L447.62,445.80 L447.65,445.80 L447.68,445.80 L447.70,445.80 L447.73,445.80 L447.75,445.80 L447.78,445.80 L447.81,445.80 L447.83,445.80 L447.86,445.80 L447.88,445.80 L447.91,445.80 L447.93,445.80 L447.96,445.80 L447.99,445.80 L448.01,445.80 L448.04,445.80 L448.06,445.80 L448.09,445.80 L448.12,445.80 L448.14,445.80 L448.17,445.80 L448.19,445.80 L448.22,445.80 L448.25,445.80 L448.27,445.80 L448.30,445.80 L448.32,445.80 L448.35,445.80 L448.37,445.80 L448.40,445.80 L448.43,445.80 L448.45,445.80 L448.48,445.80 L448.50,445.80 L448.53,445.80 L448.56,445.80 L448.58,445.80 L448.61,445.80 L448.71,445.80 L449.22,445.80 L449.73,445.80 L450.25,445.80 L450.76,445.80 L451.27,445.80 L451.78,445.80 L452.29,445.80 L452.80,445.80 L453.31,445.80 L453.82,445.80 L454.34,445.80 L454.85,445.80 L455.36,445.80 L455.87,445.80 L456.38,445.80 L456.89,445.80 L457.40,445.80 L457.91,445.80 L458.43,445.80 L458.94,445.80 L459.45,445.80 L459.96,445.80 L460.47,445.80 L460.98,445.80 L461.49,445.80 L462.00,445.80 L462.52,445.80 L463.03,445.80 L463.54,445.80 L464.05,445.80 L464.56,445.80 L465.07,445.80 L465.58,445.80 L466.09,445.80 L466.61,445.80 L467.12,445.80 L467.63,445.80 L468.14,445.80 L468.65,445.80 L469.16,445.80 L469.67,445.80 L470.18,445.80 L470.70,445.80 L471.21,445.80 L471.72,445.80 L472.23,445.80 L472.74,445.80 L473.25,445.80 L473.76,445.80 L474.27,445.80 L474.79,445.80 L475.30,445.80 L475.81,445.80 L476.32,445.80 L476.83,445.80 L477.34,445.80 L477.85,445.80 L478.36,445.80 L478.88,445.80 L479.39,445.80 L479.90,445.80 L480.41,445.80 L480.92,445.80 L481.43,445.80 L481.94,445.80 L482.45,445.80 L482.97,445.80 L483.48,445.80 L483.99,445.80 L484.50,445.80 L485.01,445.80 L485.52,445.80 L486.03,445.80 L486.54,445.80 L487.06,445.80 L487.57,445.80 L488.08,445.80 L488.59,445.80 L489.10,445.80 L489.61,445.80 L490.12,445.80 L490.63,445.80 L491.15,445.80 L491.66,445.80 L492.17,445.80 L492.68,445.80 L493.19,445.80 L493.70,445.80 L494.21,445.80 L494.72,445.80 L495.24,445.80 L495.75,445.80 L496.26,445.80 L496.77,445.80 L497.28,445.80 L497.79,445.80 L498.30,445.80 L498.81,445.80 L499.33,445.80 L499.84,445.80 L500.35,445.80 L500.86,445.80 L501.37,445.80 L501.88,445.80 L502.39,445.80 L502.90,445.80 L503.42,445.80 L503.93,445.80 L504.44,445.80 L504.95,445.80 L505.46,445.80 L505.97,445.80 L506.48,445.80 L506.99,445.80 L507.51,445.80 L508.02,445.80 L508.53,445.80 L509.04,445.80 L509.55,445.80 L510.06,445.80 L510.57,445.80 L511.08,445.80 L511.60,445.80 L512.11,445.80 L512.62,445.80 L513.13,445.80 L513.64,445.80 L514.15,445.80 L514.66,445.80 L515.17,445.80 L515.69,445.80 L516.20,445.80 L516.71,445.80 L517.22,445.80 L517.73,445.80 L518.24,445.80 L518.75,445.80 L519.26,445.80 L519.78,445.80 L520.29,445.80 L520.80,445.80 L521.31,445.80 L521.82,445.80 L522.33,445.80 L522.84,445.80 L523.35,445.80 L523.87,445.80 L524.38,445.80 L524.89,445.80 L525.40,445.80 L525.91,445.80 L526.42,445.80 L526.93,445.80 L527.44,445.80 L527.96,445.80 L528.47,445.80 L528.98,445.80 L529.49,445.80 L530.00,445.80 L530.51,445.80 L531.02,445.80 L531.53,445.80 L532.05,445.80 L532.56,445.80 L533.07,445.80 L533.58,445.80 L534.09,445.80 L534.60,445.80 L535.11,445.80 L535.62,445.80 L536.14,445.80 L536.65,445.80 L537.16,445.80 L537.67,445.80 L538.18,445.80 L538.69,445.80 L539.20,445.80 L539.71,445.80 L540.23,445.80 L540.74,445.80 L541.25,445.80 L541.76,445.80 L542.27,445.80 L542.78,445.80 L543.29,445.80 L543.80,445.80 L544.32,445.80 L544.83,445.80 L545.34,445.80 L545.85,445.80 L546.36,445.80 L546.87,445.80 L547.38,445.80 L547.89,445.80 L548.41,445.80 L548.92,445.80 L549.43,445.80 L549.94,445.80 L550.45,445.80 L550.96,445.80 L551.47,445.80 L551.98,445.80 L552.50,445.80 L553.01,445.80 L553.52,445.80 L554.03,445.80 L554.54,445.80 L555.05,445.80 L555.56,445.80 L556.07,445.80 L556.59,445.80 L557.10,445.80 L557.61,445.80 L558.12,445.80 L558.63,445.80 L559.14,445.80 L559.65,445.80 L560.16,445.80 L560.68,445.80 L561.19,445.80 L561.70,445.80 L562.21,445.80 L562.72,445.80 L563.23,445.80 L563.74,445.80 L564.25,445.80 L564.77,445.80 L565.28,445.80 L565.79,445.80 L566.30,445.80 L566.81,445.80 L567.32,445.80 L567.83,445.80 L568.34,445.80 L568.86,445.80 L569.37,445.80 L569.88,445.80 L570.39,445.80 L570.90,445.80 L571.41,445.80 L571.92,445.80 L572.43,445.80 L572.95,445.80 L573.46,445.80 L573.97,445.80 L574.48,445.80 L574.99,445.80 L575.50,445.80 L576.01,445.80 L576.52,445.80 L577.04,445.80 L577.55,445.80 L578.06,445.80 L578.57,445.80 L579.08,445.80 L579.59,445.80 L580.10,445.80 L580.61,445.80 L581.13,445.80 L581.64,445.80 L582.15,445.80 L582.66,445.80 L583.17,445.80 L583.68,445.80 L584.19,445.80 L584.70,445.80 L585.22,445.80 L585.73,445.80 L586.24,445.80 L586.75,445.80 L587.26,445.80 L587.77,445.80 L588.28,445.80 L588.79,445.80 L589.31,445.80 L589.82,445.80 L590.33,445.80 L590.84,445.80 L591.35,445.80 L591.86,445.80 L592.37,445.80 L592.88,445.80 L593.40,445.80 L593.91,445.80 L594.42,445.80 L594.93,445.80 L595.44,445.80 L595.95,445.80 L596.46,445.80 L596.97,445.80 L597.49,445.80 L598.00,445.80 L598.51,445.80 L599.02,445.80 L599.53,445.80 L600.04,445.80 L600.55,445.80 L601.06,445.80 L601.58,445.80 L602.09,445.80 L602.60,445.80 L603.11,445.80 L603.62,445.80 L604.13,445.80 L604.64,445.80 L605.15,445.80 L605.67,445.80 L606.18,445.80 L606.69,445.80 L607.20,445.80 L607.71,445.80 L608.22,445.80 L608.73,445.80 L609.24,445.80 L609.76,445.80 L610.27,445.80 L610.78,445.80 L611.29,445.80 L611.80,445.80 L612.31,445.80 L612.82,445.80 L613.33,445.80 L613.85,445.80 L614.36,445.80 L614.87,445.80 L615.38,445.80 L615.89,445.80 L616.40,445.80 L616.91,445.80 L617.42,445.80 L617.94,445.80 L618.45,445.80 L618.96,445.80 L619.47,445.80 L619.98,445.80 L620.49,445.80 L621.00,445.80 L621.51,445.80 L622.03,445.80 L622.54,445.80 L623.05,445.80 L623.56,445.80 L624.07,445.80 L624.58,445.80 L625.09,445.80 L625.60,445.80 L626.12,445.80 L626.63,445.80 L627.14,445.80 L627.65,445.80 L628.16,445.80 L628.67,445.80 L629.18,445.80 L629.69,445.80 L630.21,445.80 L630.72,445.80 L631.23,445.80 L631.74,445.80 L632.25,445.80 L632.76,445.80 L633.27,445.80 L633.78,445.80 L634.30,445.80 L634.81,445.80 L635.32,445.80 L635.83,445.80 L636.34,445.80 L636.85,445.80 L637.36,445.80 L637.87,445.80 L638.39,445.80 L638.90,445.80 L639.41,445.80 L639.92,445.80 L640.43,445.80 L640.94,445.80 L641.45,445.80 L641.96,445.80 L642.48,445.80 L642.99,445.80 L643.50,445.80 L644.01,445.80 L644.52,445.80 L645.03,445.80 L645.54,445.80 L646.05,445.80 L646.57,445.80 L647.08,445.80 L647.59,445.80 L648.10,445.80 L648.61,445.80 L649.12,445.80 L649.63,445.80 L650.14,445.80 L650.66,445.80 L651.17,445.80 L651.68,445.80 L652.19,445.80 L652.70,445.80" fill="none" stroke="#00B050" stroke-width="3.1" stroke-linecap="round" stroke-dasharray="0 6.75" />
<path d="M501.7,336.4 H564.2 V372.2 H527.4 L447.2,416.6 L512.2,372.2 H501.7 Z" fill="#fff" stroke="#BFBFBF" stroke-width="0.9"/>
<text x="509.95" y="351.40" font-size="12.0" textLength="45.87" lengthAdjust="spacingAndGlyphs" fill="#595959" >0.0022%</text>
<text x="506.11" y="367.00" font-size="12.0" textLength="53.82" lengthAdjust="spacingAndGlyphs" fill="#595959" >in 34 days</text>
</svg>
</body></html>
